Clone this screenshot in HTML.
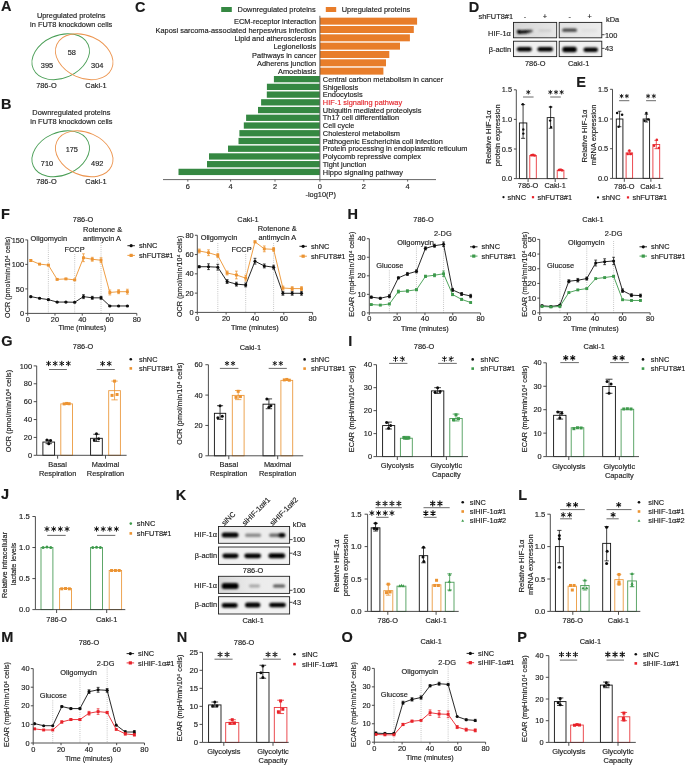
<!DOCTYPE html>
<html><head><meta charset="utf-8"><style>
html,body{margin:0;padding:0;background:#fff;}
svg{display:block;font-family:"Liberation Sans",sans-serif;will-change:transform;}
text{stroke:#1a1a1a;stroke-width:0.15px;}
</style></head><body>
<svg width="685" height="765" viewBox="0 0 685 765" font-size="7.4" fill="#1a1a1a">
<defs>
<filter id="b0" x="-50%" y="-80%" width="200%" height="260%"><feGaussianBlur stdDeviation="0.85"/></filter>
<filter id="b1" x="-50%" y="-80%" width="200%" height="260%"><feGaussianBlur stdDeviation="0.9"/></filter>
<filter id="b2" x="-50%" y="-80%" width="200%" height="260%"><feGaussianBlur stdDeviation="1.4"/></filter>
<linearGradient id="gbg1" x1="0" x2="1" y1="0" y2="0"><stop offset="0" stop-color="#d6d6d6"/><stop offset="1" stop-color="#e6e6e6"/></linearGradient>
<linearGradient id="hifg" x1="0" x2="1" y1="0" y2="0"><stop offset="0" stop-color="#000"/><stop offset="0.55" stop-color="#111"/><stop offset="1" stop-color="#555"/></linearGradient>
<linearGradient id="gbg3" x1="0" x2="1" y1="0" y2="0"><stop offset="0" stop-color="#d9d9d9"/><stop offset="0.5" stop-color="#ebebeb"/><stop offset="1" stop-color="#eeeeee"/></linearGradient>
<linearGradient id="gbg2" x1="0" x2="1" y1="0" y2="0"><stop offset="0" stop-color="#e2e2e2"/><stop offset="1" stop-color="#ececec"/></linearGradient>
<filter id="gblur" x="0" y="0" width="100%" height="100%" filterUnits="userSpaceOnUse"><feGaussianBlur stdDeviation="0.3"/></filter></defs>
<rect width="685" height="765" fill="#fff"/>
<g filter="url(#gblur)">
<text x="1" y="11.2" font-weight="bold" font-size="14.5">A</text>
<text x="71.2" y="18.23" text-anchor="middle">Upregulated proteins</text>
<text x="71.2" y="27.03" text-anchor="middle">in FUT8 knockdown cells</text>
<ellipse cx="60.7" cy="56.7" rx="30.0" ry="21.3" transform="rotate(-24 60.7 56.7)" fill="none" stroke="#4a9e56" stroke-width="0.9"/>
<ellipse cx="84.2" cy="56.7" rx="30.0" ry="21.3" transform="rotate(24 84.2 56.7)" fill="none" stroke="#ec9550" stroke-width="0.9"/>
<text x="71.8" y="55.33" text-anchor="middle">58</text>
<text x="47" y="68.43" text-anchor="middle">395</text>
<text x="97.2" y="68.43" text-anchor="middle">304</text>
<text x="46.4" y="88.23" text-anchor="middle">786-O</text>
<text x="96" y="88.23" text-anchor="middle">Caki-1</text>
<ellipse cx="60.7" cy="153.8" rx="30.0" ry="21.3" transform="rotate(-24 60.7 153.8)" fill="none" stroke="#4a9e56" stroke-width="0.9"/>
<ellipse cx="84.2" cy="153.8" rx="30.0" ry="21.3" transform="rotate(24 84.2 153.8)" fill="none" stroke="#ec9550" stroke-width="0.9"/>
<text x="71.8" y="152.43" text-anchor="middle">175</text>
<text x="47" y="165.53" text-anchor="middle">710</text>
<text x="97.2" y="165.53" text-anchor="middle">492</text>
<text x="46.4" y="184.03" text-anchor="middle">786-O</text>
<text x="96" y="184.03" text-anchor="middle">Caki-1</text>
<text x="1" y="109.4" font-weight="bold" font-size="14.5">B</text>
<text x="71.4" y="115.13" text-anchor="middle">Downregulated proteins</text>
<text x="71.4" y="124.03" text-anchor="middle">in FUT8 knockdown cells</text>
<text x="135" y="11.6" font-weight="bold" font-size="14.5">C</text>
<rect x="221.2" y="7" width="10.6" height="5" fill="#368843"/>
<text x="237.6" y="12.23">Downregulated proteins</text>
<rect x="325.8" y="7" width="10.4" height="5" fill="#e87d2c"/>
<text x="341.7" y="12.23">Upregulated proteins</text>
<rect x="319.9" y="17.66" width="97.2" height="7" fill="#e87d2c"/>
<text x="316.2" y="24.19" text-anchor="end">ECM-receptor interaction</text>
<rect x="319.9" y="25.99" width="93.9" height="7" fill="#e87d2c"/>
<text x="316.2" y="32.52" text-anchor="end">Kaposi sarcoma-associated herpesvirus infection</text>
<rect x="319.9" y="34.32" width="90" height="7" fill="#e87d2c"/>
<text x="316.2" y="40.85" text-anchor="end">Lipid and atherosclerosis</text>
<rect x="319.9" y="42.65" width="80.1" height="7" fill="#e87d2c"/>
<text x="316.2" y="49.18" text-anchor="end">Legionellosis</text>
<rect x="319.9" y="50.98" width="69.4" height="7" fill="#e87d2c"/>
<text x="316.2" y="57.51" text-anchor="end">Pathways in cancer</text>
<rect x="319.9" y="59.31" width="66.1" height="7" fill="#e87d2c"/>
<text x="316.2" y="65.84" text-anchor="end">Adherens junction</text>
<rect x="319.9" y="67.64" width="63.5" height="7" fill="#e87d2c"/>
<text x="316.2" y="74.17" text-anchor="end">Amoebiasis</text>
<rect x="273.9" y="76" width="46" height="6.3" fill="#368843"/>
<text x="322.8" y="81.83">Central carbon metabolism in cancer</text>
<rect x="266.9" y="83.73" width="53" height="6.3" fill="#368843"/>
<text x="322.8" y="89.56">Shigellosis</text>
<rect x="266.8" y="91.46" width="53.1" height="6.3" fill="#368843"/>
<text x="322.8" y="97.29">Endocytosis</text>
<rect x="261.1" y="99.19" width="58.8" height="6.3" fill="#368843"/>
<text x="322.8" y="105.02" fill="#e3262b" style="stroke:#e3262b">HIF-1 signaling pathway</text>
<rect x="258" y="106.92" width="61.9" height="6.3" fill="#368843"/>
<text x="322.8" y="112.75">Ubiquitin mediated proteolysis</text>
<rect x="246.1" y="114.65" width="73.8" height="6.3" fill="#368843"/>
<text x="322.8" y="120.48">Th17 cell differentiation</text>
<rect x="243.8" y="122.38" width="76.1" height="6.3" fill="#368843"/>
<text x="322.8" y="128.21">Cell cycle</text>
<rect x="239.4" y="130.11" width="80.5" height="6.3" fill="#368843"/>
<text x="322.8" y="135.94">Cholesterol metabolism</text>
<rect x="238.5" y="137.84" width="81.4" height="6.3" fill="#368843"/>
<text x="322.8" y="143.67">Pathogenic Escherichia coli infection</text>
<rect x="228" y="145.57" width="91.9" height="6.3" fill="#368843"/>
<text x="322.8" y="151.4">Protein processing in endoplasmic reticulum</text>
<rect x="209" y="153.3" width="110.9" height="6.3" fill="#368843"/>
<text x="322.8" y="159.13">Polycomb repressive complex</text>
<rect x="207" y="161.03" width="112.9" height="6.3" fill="#368843"/>
<text x="322.8" y="166.86">Tight junction</text>
<rect x="178.5" y="168.76" width="141.4" height="6.3" fill="#368843"/>
<text x="322.8" y="174.59">Hippo signaling pathway</text>
<line x1="319.9" y1="15.8" x2="319.9" y2="179.6" stroke="#555" stroke-width="0.9"/>
<line x1="163" y1="179.6" x2="436" y2="179.6" stroke="#555" stroke-width="0.9"/>
<line x1="187.8" y1="179.6" x2="187.8" y2="181.6" stroke="#555" stroke-width="0.9"/>
<text x="187.8" y="189.23" text-anchor="middle">6</text>
<line x1="230.6" y1="179.6" x2="230.6" y2="181.6" stroke="#555" stroke-width="0.9"/>
<text x="230.6" y="189.23" text-anchor="middle">4</text>
<line x1="275" y1="179.6" x2="275" y2="181.6" stroke="#555" stroke-width="0.9"/>
<text x="275" y="189.23" text-anchor="middle">2</text>
<line x1="319.9" y1="179.6" x2="319.9" y2="181.6" stroke="#555" stroke-width="0.9"/>
<text x="319.9" y="189.23" text-anchor="middle">0</text>
<line x1="363.8" y1="179.6" x2="363.8" y2="181.6" stroke="#555" stroke-width="0.9"/>
<text x="363.8" y="189.23" text-anchor="middle">2</text>
<line x1="407.6" y1="179.6" x2="407.6" y2="181.6" stroke="#555" stroke-width="0.9"/>
<text x="407.6" y="189.23" text-anchor="middle">4</text>
<text x="320.7" y="196.63" text-anchor="middle">-log10(P)</text>
<text x="468.8" y="11.6" font-weight="bold" font-size="14.5">D</text>
<text x="513" y="18.83" text-anchor="end">shFUT8#1</text>
<text x="525" y="18.83" text-anchor="middle">-</text>
<text x="545" y="18.83" text-anchor="middle">+</text>
<text x="569.7" y="18.83" text-anchor="middle">-</text>
<text x="589.6" y="18.83" text-anchor="middle">+</text>
<text x="606" y="21.63">kDa</text>
<text x="510.8" y="35.63" text-anchor="end">HIF-1α</text>
<text x="511" y="52.23" text-anchor="end">β-actin</text>
<line x1="601.5" y1="34.7" x2="604.5" y2="34.7" stroke="#222" stroke-width="0.8"/>
<text x="605" y="37.53">100</text>
<line x1="601.5" y1="48.4" x2="604.5" y2="48.4" stroke="#222" stroke-width="0.8"/>
<text x="605" y="51.03">43</text>
<text x="535.2" y="65.83" text-anchor="middle">786-O</text>
<text x="578.6" y="65.83" text-anchor="middle">Caki-1</text>
<rect x="513.5" y="22.4" width="43.2" height="15.4" fill="url(#gbg1)"/>
<rect x="559.2" y="22.4" width="42.6" height="15.4" fill="url(#gbg2)"/>
<rect x="513.5" y="41.2" width="43.2" height="15.4" fill="#f0f0f0"/>
<rect x="559.2" y="41.2" width="42.6" height="15.4" fill="#f0f0f0"/>
<path d="M517.2 30.0 Q516.2 32.2 518.0 33.9 L527 33.6 Q531 32.6 533.2 31.2 Q532.8 29.6 530.5 29.8 L521 30.2 Q518.5 29.6 517.2 30.0Z" fill="url(#hifg)" filter="url(#b1)"/>
<rect x="538.5" y="29.4" width="13" height="2.4" rx="1.2" fill="#000" fill-opacity="0.1" filter="url(#b1)"/>
<rect x="562.2" y="28.6" width="14.8" height="3.2" rx="1.6" fill="#000" fill-opacity="0.72" filter="url(#b0)"/>
<rect x="582" y="29.6" width="15" height="2" rx="1" fill="#000" fill-opacity="0.06" filter="url(#b1)"/>
<rect x="516.8" y="47" width="15" height="4.6" rx="2.3" fill="#000" fill-opacity="1" filter="url(#b0)"/>
<rect x="537.4" y="46.9" width="15.6" height="4.6" rx="2.3" fill="#000" fill-opacity="1" filter="url(#b0)"/>
<rect x="562.3" y="46.7" width="14.5" height="5.6" rx="2.5" fill="#000" fill-opacity="1" filter="url(#b0)"/>
<rect x="583.4" y="47.4" width="14.6" height="4.6" rx="2.3" fill="#000" fill-opacity="1" filter="url(#b0)"/>
<rect x="513.5" y="22.4" width="43.2" height="15.4" fill="none" stroke="#222" stroke-width="0.9"/>
<rect x="559.2" y="22.4" width="42.6" height="15.4" fill="none" stroke="#222" stroke-width="0.9"/>
<rect x="513.5" y="41.2" width="43.2" height="15.4" fill="none" stroke="#222" stroke-width="0.9"/>
<rect x="559.2" y="41.2" width="42.6" height="15.4" fill="none" stroke="#222" stroke-width="0.9"/>
<rect x="519.4" y="122.95" width="7.4" height="55.65" fill="#fff" stroke="#111" stroke-width="0.9"/>
<line x1="523.1" y1="138.34" x2="523.1" y2="104.6" stroke="#111" stroke-width="0.8"/>
<line x1="521.1" y1="104.6" x2="525.1" y2="104.6" stroke="#111" stroke-width="0.8"/>
<line x1="521.1" y1="138.34" x2="525.1" y2="138.34" stroke="#111" stroke-width="0.8"/>
<circle cx="522.8" cy="104.19" r="1.2" fill="#111"/>
<circle cx="523.3" cy="129.46" r="1.2" fill="#111"/>
<circle cx="523.3" cy="133.61" r="1.2" fill="#111"/>
<rect x="529.8" y="155.51" width="6.5" height="23.09" fill="#fff" stroke="#e9383d" stroke-width="0.9"/>
<rect x="530.35" y="154.02" width="2.4" height="2.4" fill="#e8232a"/>
<rect x="531.85" y="153.72" width="2.4" height="2.4" fill="#e8232a"/>
<rect x="533.35" y="154.31" width="2.4" height="2.4" fill="#e8232a"/>
<rect x="547.2" y="117.62" width="6.8" height="60.98" fill="#fff" stroke="#111" stroke-width="0.9"/>
<line x1="550.6" y1="128.28" x2="550.6" y2="106.97" stroke="#111" stroke-width="0.8"/>
<line x1="548.76" y1="106.97" x2="552.44" y2="106.97" stroke="#111" stroke-width="0.8"/>
<line x1="548.76" y1="128.28" x2="552.44" y2="128.28" stroke="#111" stroke-width="0.8"/>
<circle cx="550.6" cy="106.97" r="1.2" fill="#111"/>
<circle cx="550.1" cy="120.58" r="1.2" fill="#111"/>
<circle cx="551.1" cy="127.1" r="1.2" fill="#111"/>
<rect x="557.2" y="170.31" width="6.7" height="8.29" fill="#fff" stroke="#e9383d" stroke-width="0.9"/>
<rect x="557.85" y="168.82" width="2.4" height="2.4" fill="#e8232a"/>
<rect x="559.35" y="168.52" width="2.4" height="2.4" fill="#e8232a"/>
<rect x="560.85" y="169.11" width="2.4" height="2.4" fill="#e8232a"/>
<line x1="516.3" y1="178.6" x2="516.3" y2="89.8" stroke="#3a3a3a" stroke-width="0.9"/>
<line x1="513.9" y1="178.6" x2="516.3" y2="178.6" stroke="#3a3a3a" stroke-width="0.9"/>
<text x="512" y="181.23" text-anchor="end">0.0</text>
<line x1="513.9" y1="149" x2="516.3" y2="149" stroke="#3a3a3a" stroke-width="0.9"/>
<text x="512" y="151.63" text-anchor="end">0.5</text>
<line x1="513.9" y1="119.4" x2="516.3" y2="119.4" stroke="#3a3a3a" stroke-width="0.9"/>
<text x="512" y="122.03" text-anchor="end">1.0</text>
<line x1="513.9" y1="89.8" x2="516.3" y2="89.8" stroke="#3a3a3a" stroke-width="0.9"/>
<text x="512" y="92.43" text-anchor="end">1.5</text>
<line x1="516.3" y1="178.6" x2="567.4" y2="178.6" stroke="#3a3a3a" stroke-width="0.9"/>
<line x1="528.1" y1="178.6" x2="528.1" y2="182" stroke="#3a3a3a" stroke-width="0.9"/>
<text x="528.1" y="188.23" text-anchor="middle">786-O</text>
<line x1="555.2" y1="178.6" x2="555.2" y2="182" stroke="#3a3a3a" stroke-width="0.9"/>
<text x="555.2" y="188.23" text-anchor="middle">Caki-1</text>
<line x1="523" y1="97" x2="533.6" y2="97" stroke="#5a5a5a" stroke-width="0.9"/>
<path d="M528.3 89.94V94.46M526.34 91.07L530.26 93.33M526.34 93.33L530.26 91.07" stroke="#111" stroke-width="0.85" fill="none"/>
<line x1="550.2" y1="97" x2="560.8" y2="97" stroke="#5a5a5a" stroke-width="0.9"/>
<path d="M550.35 89.94V94.46M548.39 91.07L552.31 93.33M548.39 93.33L552.31 91.07M556 89.94V94.46M554.04 91.07L557.96 93.33M554.04 93.33L557.96 91.07M561.65 89.94V94.46M559.69 91.07L563.61 93.33M559.69 93.33L563.61 91.07" stroke="#111" stroke-width="0.85" fill="none"/>
<text x="487.8" y="139.73" text-anchor="middle" font-size="7.7" transform="rotate(-90 487.8 137)">Relative HIF-1α</text>
<text x="497.3" y="138" text-anchor="middle" font-size="7.6" transform="rotate(-90 497.3 135.3)">protein expression</text>
<circle cx="503.5" cy="197.2" r="1.1" fill="#111"/>
<text x="507.5" y="199.83">shNC</text>
<rect x="531.9" y="196.1" width="2.2" height="2.2" fill="#e8232a"/>
<text x="537.5" y="199.83">shFUT8#1</text>
<text x="576.2" y="86.6" font-weight="bold" font-size="14.5">E</text>
<rect x="616.3" y="119" width="6.6" height="59.4" fill="#fff" stroke="#111" stroke-width="0.9"/>
<line x1="619.6" y1="126.72" x2="619.6" y2="111.28" stroke="#111" stroke-width="0.8"/>
<line x1="617.82" y1="111.28" x2="621.38" y2="111.28" stroke="#111" stroke-width="0.8"/>
<line x1="617.82" y1="126.72" x2="621.38" y2="126.72" stroke="#111" stroke-width="0.8"/>
<circle cx="617.1" cy="113.06" r="1.25" fill="#111"/>
<circle cx="622.1" cy="114.84" r="1.25" fill="#111"/>
<circle cx="618.6" cy="126.72" r="1.25" fill="#111"/>
<rect x="626.1" y="152.86" width="6.5" height="25.54" fill="#fff" stroke="#e9383d" stroke-width="0.9"/>
<line x1="629.35" y1="154.64" x2="629.35" y2="151.08" stroke="#e8232a" stroke-width="0.8"/>
<line x1="627.6" y1="151.08" x2="631.11" y2="151.08" stroke="#e8232a" stroke-width="0.8"/>
<line x1="627.6" y1="154.64" x2="631.11" y2="154.64" stroke="#e8232a" stroke-width="0.8"/>
<circle cx="629.35" cy="150.48" r="1.25" fill="#e8232a"/>
<circle cx="627.55" cy="154.05" r="1.25" fill="#e8232a"/>
<circle cx="630.85" cy="154.05" r="1.25" fill="#e8232a"/>
<rect x="643.1" y="119" width="6.5" height="59.4" fill="#fff" stroke="#111" stroke-width="0.9"/>
<line x1="646.35" y1="121.97" x2="646.35" y2="114.25" stroke="#111" stroke-width="0.8"/>
<line x1="644.6" y1="114.25" x2="648.11" y2="114.25" stroke="#111" stroke-width="0.8"/>
<line x1="644.6" y1="121.97" x2="648.11" y2="121.97" stroke="#111" stroke-width="0.8"/>
<circle cx="646.35" cy="113.06" r="1.25" fill="#111"/>
<circle cx="644.55" cy="120.78" r="1.25" fill="#111"/>
<circle cx="648.15" cy="119.59" r="1.25" fill="#111"/>
<rect x="652.9" y="144.54" width="6.8" height="33.86" fill="#fff" stroke="#e9383d" stroke-width="0.9"/>
<line x1="656.3" y1="148.7" x2="656.3" y2="140.38" stroke="#e8232a" stroke-width="0.8"/>
<line x1="654.46" y1="140.38" x2="658.14" y2="140.38" stroke="#e8232a" stroke-width="0.8"/>
<line x1="654.46" y1="148.7" x2="658.14" y2="148.7" stroke="#e8232a" stroke-width="0.8"/>
<circle cx="656.8" cy="139.79" r="1.25" fill="#e8232a"/>
<circle cx="654.1" cy="145.73" r="1.25" fill="#e8232a"/>
<circle cx="658.8" cy="148.11" r="1.25" fill="#e8232a"/>
<line x1="612.5" y1="178.4" x2="612.5" y2="89.3" stroke="#3a3a3a" stroke-width="0.9"/>
<line x1="610.1" y1="178.4" x2="612.5" y2="178.4" stroke="#3a3a3a" stroke-width="0.9"/>
<text x="608.2" y="181.03" text-anchor="end">0.0</text>
<line x1="610.1" y1="148.7" x2="612.5" y2="148.7" stroke="#3a3a3a" stroke-width="0.9"/>
<text x="608.2" y="151.33" text-anchor="end">0.5</text>
<line x1="610.1" y1="119" x2="612.5" y2="119" stroke="#3a3a3a" stroke-width="0.9"/>
<text x="608.2" y="121.63" text-anchor="end">1.0</text>
<line x1="610.1" y1="89.3" x2="612.5" y2="89.3" stroke="#3a3a3a" stroke-width="0.9"/>
<text x="608.2" y="91.93" text-anchor="end">1.5</text>
<line x1="612.5" y1="178.4" x2="663.3" y2="178.4" stroke="#3a3a3a" stroke-width="0.9"/>
<line x1="624.3" y1="178.4" x2="624.3" y2="181.8" stroke="#3a3a3a" stroke-width="0.9"/>
<text x="624.3" y="188.93" text-anchor="middle">786-O</text>
<line x1="650.9" y1="178.4" x2="650.9" y2="181.8" stroke="#3a3a3a" stroke-width="0.9"/>
<text x="650.9" y="188.93" text-anchor="middle">Caki-1</text>
<line x1="619.1" y1="100.7" x2="629.3" y2="100.7" stroke="#5a5a5a" stroke-width="0.9"/>
<path d="M621.55 93.98V98.22M619.71 95.04L623.39 97.16M619.71 97.16L623.39 95.04M626.85 93.98V98.22M625.01 95.04L628.69 97.16M625.01 97.16L628.69 95.04" stroke="#111" stroke-width="0.85" fill="none"/>
<line x1="646.1" y1="100.7" x2="656" y2="100.7" stroke="#5a5a5a" stroke-width="0.9"/>
<path d="M648.1 93.82V98.38M646.13 94.96L650.07 97.24M646.13 97.24L650.07 94.96M653.8 93.82V98.38M651.83 94.96L655.77 97.24M651.83 97.24L655.77 94.96" stroke="#111" stroke-width="0.85" fill="none"/>
<text x="584.5" y="138.7" text-anchor="middle" font-size="7.6" transform="rotate(-90 584.5 136)">Relative HIF-1α</text>
<text x="593.7" y="137.6" text-anchor="middle" font-size="7.6" transform="rotate(-90 593.7 134.9)">mRNA expression</text>
<circle cx="598" cy="197.4" r="1.1" fill="#111"/>
<text x="602" y="200.03">shNC</text>
<rect x="626.9" y="196.3" width="2.2" height="2.2" fill="#e8232a"/>
<text x="632.5" y="200.03">shFUT8#1</text>
<text x="0.9" y="219.2" font-weight="bold" font-size="14.5">F</text>
<line x1="48.36" y1="243.5" x2="48.36" y2="313.4" stroke="#8a8a8a" stroke-width="0.6" stroke-dasharray="0.8 1.3"/>
<line x1="74.7" y1="254" x2="74.7" y2="313.4" stroke="#8a8a8a" stroke-width="0.6" stroke-dasharray="0.8 1.3"/>
<line x1="101.04" y1="243" x2="101.04" y2="313.4" stroke="#8a8a8a" stroke-width="0.6" stroke-dasharray="0.8 1.3"/>
<polyline points="30.8,296.64 39.58,298.31 48.36,299.63 57.14,302.08 65.92,302.08 74.7,302.28 83.48,296.64 92.26,297.82 101.04,297.82 109.82,305.95 118.6,305.95 127.38,305.95" fill="none" stroke="#111" stroke-width="0.9" stroke-linejoin="round"/>
<line x1="30.8" y1="296.15" x2="30.8" y2="297.13" stroke="#111" stroke-width="0.75"/>
<line x1="29.4" y1="296.15" x2="32.2" y2="296.15" stroke="#111" stroke-width="0.75"/>
<line x1="29.4" y1="297.13" x2="32.2" y2="297.13" stroke="#111" stroke-width="0.75"/>
<circle cx="30.8" cy="296.64" r="1.55" fill="#111"/>
<line x1="39.58" y1="297.82" x2="39.58" y2="298.8" stroke="#111" stroke-width="0.75"/>
<line x1="38.18" y1="297.82" x2="40.98" y2="297.82" stroke="#111" stroke-width="0.75"/>
<line x1="38.18" y1="298.8" x2="40.98" y2="298.8" stroke="#111" stroke-width="0.75"/>
<circle cx="39.58" cy="298.31" r="1.55" fill="#111"/>
<line x1="48.36" y1="299.14" x2="48.36" y2="300.12" stroke="#111" stroke-width="0.75"/>
<line x1="46.96" y1="299.14" x2="49.76" y2="299.14" stroke="#111" stroke-width="0.75"/>
<line x1="46.96" y1="300.12" x2="49.76" y2="300.12" stroke="#111" stroke-width="0.75"/>
<circle cx="48.36" cy="299.63" r="1.55" fill="#111"/>
<line x1="57.14" y1="301.59" x2="57.14" y2="302.57" stroke="#111" stroke-width="0.75"/>
<line x1="55.74" y1="301.59" x2="58.54" y2="301.59" stroke="#111" stroke-width="0.75"/>
<line x1="55.74" y1="302.57" x2="58.54" y2="302.57" stroke="#111" stroke-width="0.75"/>
<circle cx="57.14" cy="302.08" r="1.55" fill="#111"/>
<line x1="65.92" y1="301.59" x2="65.92" y2="302.57" stroke="#111" stroke-width="0.75"/>
<line x1="64.52" y1="301.59" x2="67.32" y2="301.59" stroke="#111" stroke-width="0.75"/>
<line x1="64.52" y1="302.57" x2="67.32" y2="302.57" stroke="#111" stroke-width="0.75"/>
<circle cx="65.92" cy="302.08" r="1.55" fill="#111"/>
<line x1="74.7" y1="301.79" x2="74.7" y2="302.77" stroke="#111" stroke-width="0.75"/>
<line x1="73.3" y1="301.79" x2="76.1" y2="301.79" stroke="#111" stroke-width="0.75"/>
<line x1="73.3" y1="302.77" x2="76.1" y2="302.77" stroke="#111" stroke-width="0.75"/>
<circle cx="74.7" cy="302.28" r="1.55" fill="#111"/>
<line x1="83.48" y1="294.68" x2="83.48" y2="298.6" stroke="#111" stroke-width="0.75"/>
<line x1="82.08" y1="294.68" x2="84.88" y2="294.68" stroke="#111" stroke-width="0.75"/>
<line x1="82.08" y1="298.6" x2="84.88" y2="298.6" stroke="#111" stroke-width="0.75"/>
<circle cx="83.48" cy="296.64" r="1.55" fill="#111"/>
<line x1="92.26" y1="296.35" x2="92.26" y2="299.29" stroke="#111" stroke-width="0.75"/>
<line x1="90.86" y1="296.35" x2="93.66" y2="296.35" stroke="#111" stroke-width="0.75"/>
<line x1="90.86" y1="299.29" x2="93.66" y2="299.29" stroke="#111" stroke-width="0.75"/>
<circle cx="92.26" cy="297.82" r="1.55" fill="#111"/>
<line x1="101.04" y1="296.35" x2="101.04" y2="299.29" stroke="#111" stroke-width="0.75"/>
<line x1="99.64" y1="296.35" x2="102.44" y2="296.35" stroke="#111" stroke-width="0.75"/>
<line x1="99.64" y1="299.29" x2="102.44" y2="299.29" stroke="#111" stroke-width="0.75"/>
<circle cx="101.04" cy="297.82" r="1.55" fill="#111"/>
<line x1="109.82" y1="305.46" x2="109.82" y2="306.44" stroke="#111" stroke-width="0.75"/>
<line x1="108.42" y1="305.46" x2="111.22" y2="305.46" stroke="#111" stroke-width="0.75"/>
<line x1="108.42" y1="306.44" x2="111.22" y2="306.44" stroke="#111" stroke-width="0.75"/>
<circle cx="109.82" cy="305.95" r="1.55" fill="#111"/>
<line x1="118.6" y1="305.46" x2="118.6" y2="306.44" stroke="#111" stroke-width="0.75"/>
<line x1="117.2" y1="305.46" x2="120" y2="305.46" stroke="#111" stroke-width="0.75"/>
<line x1="117.2" y1="306.44" x2="120" y2="306.44" stroke="#111" stroke-width="0.75"/>
<circle cx="118.6" cy="305.95" r="1.55" fill="#111"/>
<line x1="127.38" y1="305.46" x2="127.38" y2="306.44" stroke="#111" stroke-width="0.75"/>
<line x1="125.98" y1="305.46" x2="128.78" y2="305.46" stroke="#111" stroke-width="0.75"/>
<line x1="125.98" y1="306.44" x2="128.78" y2="306.44" stroke="#111" stroke-width="0.75"/>
<circle cx="127.38" cy="305.95" r="1.55" fill="#111"/>
<polyline points="30.8,260.48 39.58,264.11 48.36,265.09 57.14,279.39 65.92,278.9 74.7,279.88 83.48,257.74 92.26,259.25 101.04,260.23 109.82,292.48 118.6,291.69 127.38,291.69" fill="none" stroke="#ec9330" stroke-width="0.9" stroke-linejoin="round"/>
<line x1="30.8" y1="259.5" x2="30.8" y2="261.46" stroke="#ec9330" stroke-width="0.75"/>
<line x1="29.4" y1="259.5" x2="32.2" y2="259.5" stroke="#ec9330" stroke-width="0.75"/>
<line x1="29.4" y1="261.46" x2="32.2" y2="261.46" stroke="#ec9330" stroke-width="0.75"/>
<rect x="29.35" y="259.03" width="2.9" height="2.9" fill="#ec9330"/>
<line x1="39.58" y1="263.62" x2="39.58" y2="264.6" stroke="#ec9330" stroke-width="0.75"/>
<line x1="38.18" y1="263.62" x2="40.98" y2="263.62" stroke="#ec9330" stroke-width="0.75"/>
<line x1="38.18" y1="264.6" x2="40.98" y2="264.6" stroke="#ec9330" stroke-width="0.75"/>
<rect x="38.13" y="262.66" width="2.9" height="2.9" fill="#ec9330"/>
<line x1="48.36" y1="264.6" x2="48.36" y2="265.58" stroke="#ec9330" stroke-width="0.75"/>
<line x1="46.96" y1="264.6" x2="49.76" y2="264.6" stroke="#ec9330" stroke-width="0.75"/>
<line x1="46.96" y1="265.58" x2="49.76" y2="265.58" stroke="#ec9330" stroke-width="0.75"/>
<rect x="46.91" y="263.64" width="2.9" height="2.9" fill="#ec9330"/>
<line x1="57.14" y1="278.9" x2="57.14" y2="279.88" stroke="#ec9330" stroke-width="0.75"/>
<line x1="55.74" y1="278.9" x2="58.54" y2="278.9" stroke="#ec9330" stroke-width="0.75"/>
<line x1="55.74" y1="279.88" x2="58.54" y2="279.88" stroke="#ec9330" stroke-width="0.75"/>
<rect x="55.69" y="277.94" width="2.9" height="2.9" fill="#ec9330"/>
<line x1="65.92" y1="278.41" x2="65.92" y2="279.39" stroke="#ec9330" stroke-width="0.75"/>
<line x1="64.52" y1="278.41" x2="67.32" y2="278.41" stroke="#ec9330" stroke-width="0.75"/>
<line x1="64.52" y1="279.39" x2="67.32" y2="279.39" stroke="#ec9330" stroke-width="0.75"/>
<rect x="64.47" y="277.45" width="2.9" height="2.9" fill="#ec9330"/>
<line x1="74.7" y1="279.39" x2="74.7" y2="280.37" stroke="#ec9330" stroke-width="0.75"/>
<line x1="73.3" y1="279.39" x2="76.1" y2="279.39" stroke="#ec9330" stroke-width="0.75"/>
<line x1="73.3" y1="280.37" x2="76.1" y2="280.37" stroke="#ec9330" stroke-width="0.75"/>
<rect x="73.25" y="278.43" width="2.9" height="2.9" fill="#ec9330"/>
<line x1="83.48" y1="253.82" x2="83.48" y2="261.66" stroke="#ec9330" stroke-width="0.75"/>
<line x1="82.08" y1="253.82" x2="84.88" y2="253.82" stroke="#ec9330" stroke-width="0.75"/>
<line x1="82.08" y1="261.66" x2="84.88" y2="261.66" stroke="#ec9330" stroke-width="0.75"/>
<rect x="82.03" y="256.29" width="2.9" height="2.9" fill="#ec9330"/>
<line x1="92.26" y1="257.3" x2="92.26" y2="261.21" stroke="#ec9330" stroke-width="0.75"/>
<line x1="90.86" y1="257.3" x2="93.66" y2="257.3" stroke="#ec9330" stroke-width="0.75"/>
<line x1="90.86" y1="261.21" x2="93.66" y2="261.21" stroke="#ec9330" stroke-width="0.75"/>
<rect x="90.81" y="257.81" width="2.9" height="2.9" fill="#ec9330"/>
<line x1="101.04" y1="257.78" x2="101.04" y2="262.68" stroke="#ec9330" stroke-width="0.75"/>
<line x1="99.64" y1="257.78" x2="102.44" y2="257.78" stroke="#ec9330" stroke-width="0.75"/>
<line x1="99.64" y1="262.68" x2="102.44" y2="262.68" stroke="#ec9330" stroke-width="0.75"/>
<rect x="99.59" y="258.78" width="2.9" height="2.9" fill="#ec9330"/>
<line x1="109.82" y1="290.03" x2="109.82" y2="294.93" stroke="#ec9330" stroke-width="0.75"/>
<line x1="108.42" y1="290.03" x2="111.22" y2="290.03" stroke="#ec9330" stroke-width="0.75"/>
<line x1="108.42" y1="294.93" x2="111.22" y2="294.93" stroke="#ec9330" stroke-width="0.75"/>
<rect x="108.37" y="291.03" width="2.9" height="2.9" fill="#ec9330"/>
<line x1="118.6" y1="289.73" x2="118.6" y2="293.65" stroke="#ec9330" stroke-width="0.75"/>
<line x1="117.2" y1="289.73" x2="120" y2="289.73" stroke="#ec9330" stroke-width="0.75"/>
<line x1="117.2" y1="293.65" x2="120" y2="293.65" stroke="#ec9330" stroke-width="0.75"/>
<rect x="117.15" y="290.24" width="2.9" height="2.9" fill="#ec9330"/>
<line x1="127.38" y1="289.24" x2="127.38" y2="294.14" stroke="#ec9330" stroke-width="0.75"/>
<line x1="125.98" y1="289.24" x2="128.78" y2="289.24" stroke="#ec9330" stroke-width="0.75"/>
<line x1="125.98" y1="294.14" x2="128.78" y2="294.14" stroke="#ec9330" stroke-width="0.75"/>
<rect x="125.93" y="290.24" width="2.9" height="2.9" fill="#ec9330"/>
<line x1="27.7" y1="313.4" x2="27.7" y2="239.9" stroke="#3a3a3a" stroke-width="0.9"/>
<line x1="25.3" y1="313.4" x2="27.7" y2="313.4" stroke="#3a3a3a" stroke-width="0.9"/>
<text x="24.1" y="316.03" text-anchor="end">0</text>
<line x1="25.3" y1="288.9" x2="27.7" y2="288.9" stroke="#3a3a3a" stroke-width="0.9"/>
<text x="24.1" y="291.53" text-anchor="end">50</text>
<line x1="25.3" y1="264.4" x2="27.7" y2="264.4" stroke="#3a3a3a" stroke-width="0.9"/>
<text x="24.1" y="267.03" text-anchor="end">100</text>
<line x1="25.3" y1="239.9" x2="27.7" y2="239.9" stroke="#3a3a3a" stroke-width="0.9"/>
<text x="24.1" y="242.53" text-anchor="end">150</text>
<line x1="27.7" y1="313.4" x2="136.82" y2="313.4" stroke="#3a3a3a" stroke-width="0.9"/>
<line x1="27.7" y1="313.4" x2="27.7" y2="315.6" stroke="#3a3a3a" stroke-width="0.9"/>
<text x="27.7" y="321.93" text-anchor="middle">0</text>
<line x1="54.98" y1="313.4" x2="54.98" y2="315.6" stroke="#3a3a3a" stroke-width="0.9"/>
<text x="54.98" y="321.93" text-anchor="middle">20</text>
<line x1="82.26" y1="313.4" x2="82.26" y2="315.6" stroke="#3a3a3a" stroke-width="0.9"/>
<text x="82.26" y="321.93" text-anchor="middle">40</text>
<line x1="109.54" y1="313.4" x2="109.54" y2="315.6" stroke="#3a3a3a" stroke-width="0.9"/>
<text x="109.54" y="321.93" text-anchor="middle">60</text>
<line x1="136.82" y1="313.4" x2="136.82" y2="315.6" stroke="#3a3a3a" stroke-width="0.9"/>
<text x="136.82" y="321.93" text-anchor="middle">80</text>
<text x="82.26" y="330.36" text-anchor="middle" font-size="7.2">Time (minutes)</text>
<text x="30.5" y="240.63">Oligomycin</text>
<text x="74.5" y="252.23" text-anchor="middle">FCCP</text>
<text x="83.1" y="231.93">Rotenone &</text>
<text x="83.1" y="240.63">antimycin A</text>
<line x1="127.4" y1="245.7" x2="134.9" y2="245.7" stroke="#111" stroke-width="0.9"/>
<circle cx="131.15" cy="245.7" r="1.6" fill="#111"/>
<text x="138.9" y="248.33">shNC</text>
<line x1="127.4" y1="255.4" x2="134.9" y2="255.4" stroke="#ec9330" stroke-width="0.9"/>
<rect x="129.55" y="253.8" width="3.2" height="3.2" fill="#ec9330"/>
<text x="138.9" y="258.03">shFUT8#1</text>
<text x="83.1" y="222.03" text-anchor="middle">786-O</text>
<text x="7.4" y="279.76" text-anchor="middle" font-size="7.2" transform="rotate(-90 7.4 277.2)">OCR (pmol/min/10⁴ cells)</text>
<line x1="217.8" y1="243" x2="217.8" y2="312.4" stroke="#8a8a8a" stroke-width="0.6" stroke-dasharray="0.8 1.3"/>
<line x1="245.7" y1="254" x2="245.7" y2="312.4" stroke="#8a8a8a" stroke-width="0.6" stroke-dasharray="0.8 1.3"/>
<line x1="273.6" y1="243" x2="273.6" y2="312.4" stroke="#8a8a8a" stroke-width="0.6" stroke-dasharray="0.8 1.3"/>
<polyline points="199.2,266.71 208.5,266.71 217.8,267.19 227.1,281.55 236.4,284.15 245.7,284.93 255,261.21 264.3,265.94 273.6,267.19 282.9,293.31 292.2,293.31 301.5,293.31" fill="none" stroke="#111" stroke-width="0.9" stroke-linejoin="round"/>
<line x1="199.2" y1="265.74" x2="199.2" y2="267.67" stroke="#111" stroke-width="0.75"/>
<line x1="197.8" y1="265.74" x2="200.6" y2="265.74" stroke="#111" stroke-width="0.75"/>
<line x1="197.8" y1="267.67" x2="200.6" y2="267.67" stroke="#111" stroke-width="0.75"/>
<circle cx="199.2" cy="266.71" r="1.55" fill="#111"/>
<line x1="208.5" y1="263.81" x2="208.5" y2="269.6" stroke="#111" stroke-width="0.75"/>
<line x1="207.1" y1="263.81" x2="209.9" y2="263.81" stroke="#111" stroke-width="0.75"/>
<line x1="207.1" y1="269.6" x2="209.9" y2="269.6" stroke="#111" stroke-width="0.75"/>
<circle cx="208.5" cy="266.71" r="1.55" fill="#111"/>
<line x1="217.8" y1="264.3" x2="217.8" y2="270.08" stroke="#111" stroke-width="0.75"/>
<line x1="216.4" y1="264.3" x2="219.2" y2="264.3" stroke="#111" stroke-width="0.75"/>
<line x1="216.4" y1="270.08" x2="219.2" y2="270.08" stroke="#111" stroke-width="0.75"/>
<circle cx="217.8" cy="267.19" r="1.55" fill="#111"/>
<line x1="227.1" y1="279.62" x2="227.1" y2="283.48" stroke="#111" stroke-width="0.75"/>
<line x1="225.7" y1="279.62" x2="228.5" y2="279.62" stroke="#111" stroke-width="0.75"/>
<line x1="225.7" y1="283.48" x2="228.5" y2="283.48" stroke="#111" stroke-width="0.75"/>
<circle cx="227.1" cy="281.55" r="1.55" fill="#111"/>
<line x1="236.4" y1="282.23" x2="236.4" y2="286.08" stroke="#111" stroke-width="0.75"/>
<line x1="235" y1="282.23" x2="237.8" y2="282.23" stroke="#111" stroke-width="0.75"/>
<line x1="235" y1="286.08" x2="237.8" y2="286.08" stroke="#111" stroke-width="0.75"/>
<circle cx="236.4" cy="284.15" r="1.55" fill="#111"/>
<line x1="245.7" y1="283" x2="245.7" y2="286.85" stroke="#111" stroke-width="0.75"/>
<line x1="244.3" y1="283" x2="247.1" y2="283" stroke="#111" stroke-width="0.75"/>
<line x1="244.3" y1="286.85" x2="247.1" y2="286.85" stroke="#111" stroke-width="0.75"/>
<circle cx="245.7" cy="284.93" r="1.55" fill="#111"/>
<line x1="255" y1="258.32" x2="255" y2="264.1" stroke="#111" stroke-width="0.75"/>
<line x1="253.6" y1="258.32" x2="256.4" y2="258.32" stroke="#111" stroke-width="0.75"/>
<line x1="253.6" y1="264.1" x2="256.4" y2="264.1" stroke="#111" stroke-width="0.75"/>
<circle cx="255" cy="261.21" r="1.55" fill="#111"/>
<line x1="264.3" y1="264.01" x2="264.3" y2="267.86" stroke="#111" stroke-width="0.75"/>
<line x1="262.9" y1="264.01" x2="265.7" y2="264.01" stroke="#111" stroke-width="0.75"/>
<line x1="262.9" y1="267.86" x2="265.7" y2="267.86" stroke="#111" stroke-width="0.75"/>
<circle cx="264.3" cy="265.94" r="1.55" fill="#111"/>
<line x1="273.6" y1="265.26" x2="273.6" y2="269.12" stroke="#111" stroke-width="0.75"/>
<line x1="272.2" y1="265.26" x2="275" y2="265.26" stroke="#111" stroke-width="0.75"/>
<line x1="272.2" y1="269.12" x2="275" y2="269.12" stroke="#111" stroke-width="0.75"/>
<circle cx="273.6" cy="267.19" r="1.55" fill="#111"/>
<line x1="282.9" y1="291.38" x2="282.9" y2="295.24" stroke="#111" stroke-width="0.75"/>
<line x1="281.5" y1="291.38" x2="284.3" y2="291.38" stroke="#111" stroke-width="0.75"/>
<line x1="281.5" y1="295.24" x2="284.3" y2="295.24" stroke="#111" stroke-width="0.75"/>
<circle cx="282.9" cy="293.31" r="1.55" fill="#111"/>
<line x1="292.2" y1="291.38" x2="292.2" y2="295.24" stroke="#111" stroke-width="0.75"/>
<line x1="290.8" y1="291.38" x2="293.6" y2="291.38" stroke="#111" stroke-width="0.75"/>
<line x1="290.8" y1="295.24" x2="293.6" y2="295.24" stroke="#111" stroke-width="0.75"/>
<circle cx="292.2" cy="293.31" r="1.55" fill="#111"/>
<line x1="301.5" y1="291.38" x2="301.5" y2="295.24" stroke="#111" stroke-width="0.75"/>
<line x1="300.1" y1="291.38" x2="302.9" y2="291.38" stroke="#111" stroke-width="0.75"/>
<line x1="300.1" y1="295.24" x2="302.9" y2="295.24" stroke="#111" stroke-width="0.75"/>
<circle cx="301.5" cy="293.31" r="1.55" fill="#111"/>
<polyline points="199.2,250.99 208.5,252.73 217.8,255.52 227.1,272.97 236.4,275 245.7,278.08 255,241.84 264.3,248.87 273.6,249.35 282.9,288.01 292.2,288.59 301.5,288.59" fill="none" stroke="#ec9330" stroke-width="0.9" stroke-linejoin="round"/>
<line x1="199.2" y1="249.07" x2="199.2" y2="252.92" stroke="#ec9330" stroke-width="0.75"/>
<line x1="197.8" y1="249.07" x2="200.6" y2="249.07" stroke="#ec9330" stroke-width="0.75"/>
<line x1="197.8" y1="252.92" x2="200.6" y2="252.92" stroke="#ec9330" stroke-width="0.75"/>
<rect x="197.75" y="249.54" width="2.9" height="2.9" fill="#ec9330"/>
<line x1="208.5" y1="249.84" x2="208.5" y2="255.62" stroke="#ec9330" stroke-width="0.75"/>
<line x1="207.1" y1="249.84" x2="209.9" y2="249.84" stroke="#ec9330" stroke-width="0.75"/>
<line x1="207.1" y1="255.62" x2="209.9" y2="255.62" stroke="#ec9330" stroke-width="0.75"/>
<rect x="207.05" y="251.28" width="2.9" height="2.9" fill="#ec9330"/>
<line x1="217.8" y1="253.6" x2="217.8" y2="257.45" stroke="#ec9330" stroke-width="0.75"/>
<line x1="216.4" y1="253.6" x2="219.2" y2="253.6" stroke="#ec9330" stroke-width="0.75"/>
<line x1="216.4" y1="257.45" x2="219.2" y2="257.45" stroke="#ec9330" stroke-width="0.75"/>
<rect x="216.35" y="254.07" width="2.9" height="2.9" fill="#ec9330"/>
<line x1="227.1" y1="271.04" x2="227.1" y2="274.9" stroke="#ec9330" stroke-width="0.75"/>
<line x1="225.7" y1="271.04" x2="228.5" y2="271.04" stroke="#ec9330" stroke-width="0.75"/>
<line x1="225.7" y1="274.9" x2="228.5" y2="274.9" stroke="#ec9330" stroke-width="0.75"/>
<rect x="225.65" y="271.52" width="2.9" height="2.9" fill="#ec9330"/>
<line x1="236.4" y1="271.14" x2="236.4" y2="278.85" stroke="#ec9330" stroke-width="0.75"/>
<line x1="235" y1="271.14" x2="237.8" y2="271.14" stroke="#ec9330" stroke-width="0.75"/>
<line x1="235" y1="278.85" x2="237.8" y2="278.85" stroke="#ec9330" stroke-width="0.75"/>
<rect x="234.95" y="273.55" width="2.9" height="2.9" fill="#ec9330"/>
<line x1="245.7" y1="275.19" x2="245.7" y2="280.97" stroke="#ec9330" stroke-width="0.75"/>
<line x1="244.3" y1="275.19" x2="247.1" y2="275.19" stroke="#ec9330" stroke-width="0.75"/>
<line x1="244.3" y1="280.97" x2="247.1" y2="280.97" stroke="#ec9330" stroke-width="0.75"/>
<rect x="244.25" y="276.63" width="2.9" height="2.9" fill="#ec9330"/>
<line x1="255" y1="240.87" x2="255" y2="242.8" stroke="#ec9330" stroke-width="0.75"/>
<line x1="253.6" y1="240.87" x2="256.4" y2="240.87" stroke="#ec9330" stroke-width="0.75"/>
<line x1="253.6" y1="242.8" x2="256.4" y2="242.8" stroke="#ec9330" stroke-width="0.75"/>
<rect x="253.55" y="240.39" width="2.9" height="2.9" fill="#ec9330"/>
<line x1="264.3" y1="245.98" x2="264.3" y2="251.76" stroke="#ec9330" stroke-width="0.75"/>
<line x1="262.9" y1="245.98" x2="265.7" y2="245.98" stroke="#ec9330" stroke-width="0.75"/>
<line x1="262.9" y1="251.76" x2="265.7" y2="251.76" stroke="#ec9330" stroke-width="0.75"/>
<rect x="262.85" y="247.42" width="2.9" height="2.9" fill="#ec9330"/>
<line x1="273.6" y1="247.43" x2="273.6" y2="251.28" stroke="#ec9330" stroke-width="0.75"/>
<line x1="272.2" y1="247.43" x2="275" y2="247.43" stroke="#ec9330" stroke-width="0.75"/>
<line x1="272.2" y1="251.28" x2="275" y2="251.28" stroke="#ec9330" stroke-width="0.75"/>
<rect x="272.15" y="247.9" width="2.9" height="2.9" fill="#ec9330"/>
<line x1="282.9" y1="286.08" x2="282.9" y2="289.94" stroke="#ec9330" stroke-width="0.75"/>
<line x1="281.5" y1="286.08" x2="284.3" y2="286.08" stroke="#ec9330" stroke-width="0.75"/>
<line x1="281.5" y1="289.94" x2="284.3" y2="289.94" stroke="#ec9330" stroke-width="0.75"/>
<rect x="281.45" y="286.56" width="2.9" height="2.9" fill="#ec9330"/>
<line x1="292.2" y1="286.66" x2="292.2" y2="290.52" stroke="#ec9330" stroke-width="0.75"/>
<line x1="290.8" y1="286.66" x2="293.6" y2="286.66" stroke="#ec9330" stroke-width="0.75"/>
<line x1="290.8" y1="290.52" x2="293.6" y2="290.52" stroke="#ec9330" stroke-width="0.75"/>
<rect x="290.75" y="287.14" width="2.9" height="2.9" fill="#ec9330"/>
<line x1="301.5" y1="286.66" x2="301.5" y2="290.52" stroke="#ec9330" stroke-width="0.75"/>
<line x1="300.1" y1="286.66" x2="302.9" y2="286.66" stroke="#ec9330" stroke-width="0.75"/>
<line x1="300.1" y1="290.52" x2="302.9" y2="290.52" stroke="#ec9330" stroke-width="0.75"/>
<rect x="300.05" y="287.14" width="2.9" height="2.9" fill="#ec9330"/>
<line x1="197.3" y1="312.4" x2="197.3" y2="235.28" stroke="#3a3a3a" stroke-width="0.9"/>
<line x1="194.9" y1="312.4" x2="197.3" y2="312.4" stroke="#3a3a3a" stroke-width="0.9"/>
<text x="193.7" y="315.03" text-anchor="end">0</text>
<line x1="194.9" y1="293.12" x2="197.3" y2="293.12" stroke="#3a3a3a" stroke-width="0.9"/>
<text x="193.7" y="295.75" text-anchor="end">20</text>
<line x1="194.9" y1="273.84" x2="197.3" y2="273.84" stroke="#3a3a3a" stroke-width="0.9"/>
<text x="193.7" y="276.47" text-anchor="end">40</text>
<line x1="194.9" y1="254.56" x2="197.3" y2="254.56" stroke="#3a3a3a" stroke-width="0.9"/>
<text x="193.7" y="257.19" text-anchor="end">60</text>
<line x1="194.9" y1="235.28" x2="197.3" y2="235.28" stroke="#3a3a3a" stroke-width="0.9"/>
<text x="193.7" y="237.91" text-anchor="end">80</text>
<line x1="197.3" y1="312.4" x2="312.58" y2="312.4" stroke="#3a3a3a" stroke-width="0.9"/>
<line x1="197.3" y1="312.4" x2="197.3" y2="314.6" stroke="#3a3a3a" stroke-width="0.9"/>
<text x="197.3" y="320.93" text-anchor="middle">0</text>
<line x1="226.12" y1="312.4" x2="226.12" y2="314.6" stroke="#3a3a3a" stroke-width="0.9"/>
<text x="226.12" y="320.93" text-anchor="middle">20</text>
<line x1="254.94" y1="312.4" x2="254.94" y2="314.6" stroke="#3a3a3a" stroke-width="0.9"/>
<text x="254.94" y="320.93" text-anchor="middle">40</text>
<line x1="283.76" y1="312.4" x2="283.76" y2="314.6" stroke="#3a3a3a" stroke-width="0.9"/>
<text x="283.76" y="320.93" text-anchor="middle">60</text>
<line x1="312.58" y1="312.4" x2="312.58" y2="314.6" stroke="#3a3a3a" stroke-width="0.9"/>
<text x="312.58" y="320.93" text-anchor="middle">80</text>
<text x="254.94" y="330.36" text-anchor="middle" font-size="7.2">Time (minutes)</text>
<text x="200.7" y="240.23">Oligomycin</text>
<text x="241.5" y="252.03" text-anchor="middle">FCCP</text>
<text x="257.7" y="231.03">Rotenone &</text>
<text x="258.5" y="240.23">antimycin A</text>
<line x1="299.4" y1="246.3" x2="306.9" y2="246.3" stroke="#111" stroke-width="0.9"/>
<circle cx="303.15" cy="246.3" r="1.6" fill="#111"/>
<text x="310.9" y="248.93">shNC</text>
<line x1="299.4" y1="256.2" x2="306.9" y2="256.2" stroke="#ec9330" stroke-width="0.9"/>
<rect x="301.55" y="254.6" width="3.2" height="3.2" fill="#ec9330"/>
<text x="310.9" y="258.83">shFUT8#1</text>
<text x="248" y="222.33" text-anchor="middle">Caki-1</text>
<text x="179.3" y="278.96" text-anchor="middle" font-size="7.2" transform="rotate(-90 179.3 276.4)">OCR (pmol/min/10⁴ cells)</text>
<text x="347.5" y="218.7" font-weight="bold" font-size="14.5">H</text>
<line x1="389.36" y1="270.5" x2="389.36" y2="312.9" stroke="#8a8a8a" stroke-width="0.6" stroke-dasharray="0.8 1.3"/>
<line x1="416.45" y1="246.5" x2="416.45" y2="312.9" stroke="#8a8a8a" stroke-width="0.6" stroke-dasharray="0.8 1.3"/>
<line x1="443.54" y1="241" x2="443.54" y2="312.9" stroke="#8a8a8a" stroke-width="0.6" stroke-dasharray="0.8 1.3"/>
<polyline points="371.3,297.13 380.33,298.25 389.36,296.2 398.39,277.84 407.42,273.94 416.45,271.35 425.48,248.35 434.51,245.75 443.54,244.26 452.57,289.9 461.6,293.98 470.63,296.02" fill="none" stroke="#111" stroke-width="0.9" stroke-linejoin="round"/>
<line x1="371.3" y1="296.2" x2="371.3" y2="298.06" stroke="#111" stroke-width="0.75"/>
<line x1="369.9" y1="296.2" x2="372.7" y2="296.2" stroke="#111" stroke-width="0.75"/>
<line x1="369.9" y1="298.06" x2="372.7" y2="298.06" stroke="#111" stroke-width="0.75"/>
<circle cx="371.3" cy="297.13" r="1.55" fill="#111"/>
<line x1="380.33" y1="297.32" x2="380.33" y2="299.17" stroke="#111" stroke-width="0.75"/>
<line x1="378.93" y1="297.32" x2="381.73" y2="297.32" stroke="#111" stroke-width="0.75"/>
<line x1="378.93" y1="299.17" x2="381.73" y2="299.17" stroke="#111" stroke-width="0.75"/>
<circle cx="380.33" cy="298.25" r="1.55" fill="#111"/>
<line x1="389.36" y1="294.72" x2="389.36" y2="297.69" stroke="#111" stroke-width="0.75"/>
<line x1="387.96" y1="294.72" x2="390.76" y2="294.72" stroke="#111" stroke-width="0.75"/>
<line x1="387.96" y1="297.69" x2="390.76" y2="297.69" stroke="#111" stroke-width="0.75"/>
<circle cx="389.36" cy="296.2" r="1.55" fill="#111"/>
<line x1="398.39" y1="276.91" x2="398.39" y2="278.77" stroke="#111" stroke-width="0.75"/>
<line x1="396.99" y1="276.91" x2="399.79" y2="276.91" stroke="#111" stroke-width="0.75"/>
<line x1="396.99" y1="278.77" x2="399.79" y2="278.77" stroke="#111" stroke-width="0.75"/>
<circle cx="398.39" cy="277.84" r="1.55" fill="#111"/>
<line x1="407.42" y1="272.46" x2="407.42" y2="275.43" stroke="#111" stroke-width="0.75"/>
<line x1="406.02" y1="272.46" x2="408.82" y2="272.46" stroke="#111" stroke-width="0.75"/>
<line x1="406.02" y1="275.43" x2="408.82" y2="275.43" stroke="#111" stroke-width="0.75"/>
<circle cx="407.42" cy="273.94" r="1.55" fill="#111"/>
<line x1="416.45" y1="269.86" x2="416.45" y2="272.83" stroke="#111" stroke-width="0.75"/>
<line x1="415.05" y1="269.86" x2="417.85" y2="269.86" stroke="#111" stroke-width="0.75"/>
<line x1="415.05" y1="272.83" x2="417.85" y2="272.83" stroke="#111" stroke-width="0.75"/>
<circle cx="416.45" cy="271.35" r="1.55" fill="#111"/>
<line x1="425.48" y1="246.86" x2="425.48" y2="249.83" stroke="#111" stroke-width="0.75"/>
<line x1="424.08" y1="246.86" x2="426.88" y2="246.86" stroke="#111" stroke-width="0.75"/>
<line x1="424.08" y1="249.83" x2="426.88" y2="249.83" stroke="#111" stroke-width="0.75"/>
<circle cx="425.48" cy="248.35" r="1.55" fill="#111"/>
<line x1="434.51" y1="244.26" x2="434.51" y2="247.23" stroke="#111" stroke-width="0.75"/>
<line x1="433.11" y1="244.26" x2="435.91" y2="244.26" stroke="#111" stroke-width="0.75"/>
<line x1="433.11" y1="247.23" x2="435.91" y2="247.23" stroke="#111" stroke-width="0.75"/>
<circle cx="434.51" cy="245.75" r="1.55" fill="#111"/>
<line x1="443.54" y1="242.04" x2="443.54" y2="246.49" stroke="#111" stroke-width="0.75"/>
<line x1="442.14" y1="242.04" x2="444.94" y2="242.04" stroke="#111" stroke-width="0.75"/>
<line x1="442.14" y1="246.49" x2="444.94" y2="246.49" stroke="#111" stroke-width="0.75"/>
<circle cx="443.54" cy="244.26" r="1.55" fill="#111"/>
<line x1="452.57" y1="288.41" x2="452.57" y2="291.38" stroke="#111" stroke-width="0.75"/>
<line x1="451.17" y1="288.41" x2="453.97" y2="288.41" stroke="#111" stroke-width="0.75"/>
<line x1="451.17" y1="291.38" x2="453.97" y2="291.38" stroke="#111" stroke-width="0.75"/>
<circle cx="452.57" cy="289.9" r="1.55" fill="#111"/>
<line x1="461.6" y1="292.5" x2="461.6" y2="295.46" stroke="#111" stroke-width="0.75"/>
<line x1="460.2" y1="292.5" x2="463" y2="292.5" stroke="#111" stroke-width="0.75"/>
<line x1="460.2" y1="295.46" x2="463" y2="295.46" stroke="#111" stroke-width="0.75"/>
<circle cx="461.6" cy="293.98" r="1.55" fill="#111"/>
<line x1="470.63" y1="294.35" x2="470.63" y2="297.69" stroke="#111" stroke-width="0.75"/>
<line x1="469.23" y1="294.35" x2="472.03" y2="294.35" stroke="#111" stroke-width="0.75"/>
<line x1="469.23" y1="297.69" x2="472.03" y2="297.69" stroke="#111" stroke-width="0.75"/>
<circle cx="470.63" cy="296.02" r="1.55" fill="#111"/>
<polyline points="371.3,304.55 380.33,305.11 389.36,304 398.39,291.57 407.42,291.01 416.45,289.71 425.48,276.36 434.51,275.24 443.54,273.76 452.57,294.54 461.6,299.36 470.63,302.51" fill="none" stroke="#3d9a4c" stroke-width="0.9" stroke-linejoin="round"/>
<rect x="369.85" y="303.1" width="2.9" height="2.9" fill="#3d9a4c"/>
<rect x="378.88" y="303.66" width="2.9" height="2.9" fill="#3d9a4c"/>
<rect x="387.91" y="302.55" width="2.9" height="2.9" fill="#3d9a4c"/>
<line x1="398.39" y1="290.08" x2="398.39" y2="293.05" stroke="#3d9a4c" stroke-width="0.75"/>
<line x1="396.99" y1="290.08" x2="399.79" y2="290.08" stroke="#3d9a4c" stroke-width="0.75"/>
<line x1="396.99" y1="293.05" x2="399.79" y2="293.05" stroke="#3d9a4c" stroke-width="0.75"/>
<rect x="396.94" y="290.12" width="2.9" height="2.9" fill="#3d9a4c"/>
<line x1="407.42" y1="289.9" x2="407.42" y2="292.12" stroke="#3d9a4c" stroke-width="0.75"/>
<line x1="406.02" y1="289.9" x2="408.82" y2="289.9" stroke="#3d9a4c" stroke-width="0.75"/>
<line x1="406.02" y1="292.12" x2="408.82" y2="292.12" stroke="#3d9a4c" stroke-width="0.75"/>
<rect x="405.97" y="289.56" width="2.9" height="2.9" fill="#3d9a4c"/>
<line x1="416.45" y1="288.78" x2="416.45" y2="290.64" stroke="#3d9a4c" stroke-width="0.75"/>
<line x1="415.05" y1="288.78" x2="417.85" y2="288.78" stroke="#3d9a4c" stroke-width="0.75"/>
<line x1="415.05" y1="290.64" x2="417.85" y2="290.64" stroke="#3d9a4c" stroke-width="0.75"/>
<rect x="415" y="288.26" width="2.9" height="2.9" fill="#3d9a4c"/>
<line x1="425.48" y1="275.24" x2="425.48" y2="277.47" stroke="#3d9a4c" stroke-width="0.75"/>
<line x1="424.08" y1="275.24" x2="426.88" y2="275.24" stroke="#3d9a4c" stroke-width="0.75"/>
<line x1="424.08" y1="277.47" x2="426.88" y2="277.47" stroke="#3d9a4c" stroke-width="0.75"/>
<rect x="424.03" y="274.91" width="2.9" height="2.9" fill="#3d9a4c"/>
<line x1="434.51" y1="273.76" x2="434.51" y2="276.73" stroke="#3d9a4c" stroke-width="0.75"/>
<line x1="433.11" y1="273.76" x2="435.91" y2="273.76" stroke="#3d9a4c" stroke-width="0.75"/>
<line x1="433.11" y1="276.73" x2="435.91" y2="276.73" stroke="#3d9a4c" stroke-width="0.75"/>
<rect x="433.06" y="273.79" width="2.9" height="2.9" fill="#3d9a4c"/>
<line x1="443.54" y1="270.98" x2="443.54" y2="276.54" stroke="#3d9a4c" stroke-width="0.75"/>
<line x1="442.14" y1="270.98" x2="444.94" y2="270.98" stroke="#3d9a4c" stroke-width="0.75"/>
<line x1="442.14" y1="276.54" x2="444.94" y2="276.54" stroke="#3d9a4c" stroke-width="0.75"/>
<rect x="442.09" y="272.31" width="2.9" height="2.9" fill="#3d9a4c"/>
<line x1="452.57" y1="293.42" x2="452.57" y2="295.65" stroke="#3d9a4c" stroke-width="0.75"/>
<line x1="451.17" y1="293.42" x2="453.97" y2="293.42" stroke="#3d9a4c" stroke-width="0.75"/>
<line x1="451.17" y1="295.65" x2="453.97" y2="295.65" stroke="#3d9a4c" stroke-width="0.75"/>
<rect x="451.12" y="293.09" width="2.9" height="2.9" fill="#3d9a4c"/>
<line x1="461.6" y1="298.43" x2="461.6" y2="300.29" stroke="#3d9a4c" stroke-width="0.75"/>
<line x1="460.2" y1="298.43" x2="463" y2="298.43" stroke="#3d9a4c" stroke-width="0.75"/>
<line x1="460.2" y1="300.29" x2="463" y2="300.29" stroke="#3d9a4c" stroke-width="0.75"/>
<rect x="460.15" y="297.91" width="2.9" height="2.9" fill="#3d9a4c"/>
<rect x="469.18" y="301.06" width="2.9" height="2.9" fill="#3d9a4c"/>
<line x1="369.3" y1="312.9" x2="369.3" y2="238.7" stroke="#3a3a3a" stroke-width="0.9"/>
<line x1="366.9" y1="312.9" x2="369.3" y2="312.9" stroke="#3a3a3a" stroke-width="0.9"/>
<text x="365.7" y="315.53" text-anchor="end">0</text>
<line x1="366.9" y1="294.35" x2="369.3" y2="294.35" stroke="#3a3a3a" stroke-width="0.9"/>
<text x="365.7" y="296.98" text-anchor="end">10</text>
<line x1="366.9" y1="275.8" x2="369.3" y2="275.8" stroke="#3a3a3a" stroke-width="0.9"/>
<text x="365.7" y="278.43" text-anchor="end">20</text>
<line x1="366.9" y1="257.25" x2="369.3" y2="257.25" stroke="#3a3a3a" stroke-width="0.9"/>
<text x="365.7" y="259.88" text-anchor="end">30</text>
<line x1="366.9" y1="238.7" x2="369.3" y2="238.7" stroke="#3a3a3a" stroke-width="0.9"/>
<text x="365.7" y="241.33" text-anchor="end">40</text>
<line x1="369.3" y1="312.9" x2="480.58" y2="312.9" stroke="#3a3a3a" stroke-width="0.9"/>
<line x1="369.3" y1="312.9" x2="369.3" y2="315.1" stroke="#3a3a3a" stroke-width="0.9"/>
<text x="369.3" y="321.43" text-anchor="middle">0</text>
<line x1="397.12" y1="312.9" x2="397.12" y2="315.1" stroke="#3a3a3a" stroke-width="0.9"/>
<text x="397.12" y="321.43" text-anchor="middle">20</text>
<line x1="424.94" y1="312.9" x2="424.94" y2="315.1" stroke="#3a3a3a" stroke-width="0.9"/>
<text x="424.94" y="321.43" text-anchor="middle">40</text>
<line x1="452.76" y1="312.9" x2="452.76" y2="315.1" stroke="#3a3a3a" stroke-width="0.9"/>
<text x="452.76" y="321.43" text-anchor="middle">60</text>
<line x1="480.58" y1="312.9" x2="480.58" y2="315.1" stroke="#3a3a3a" stroke-width="0.9"/>
<text x="480.58" y="321.43" text-anchor="middle">80</text>
<text x="424.94" y="330.96" text-anchor="middle" font-size="7.2">Time (minutes)</text>
<text x="376.3" y="267.83">Glucose</text>
<text x="397.3" y="244.63">Oligomycin</text>
<text x="434" y="236.23">2-DG</text>
<line x1="470" y1="246.8" x2="477.5" y2="246.8" stroke="#111" stroke-width="0.9"/>
<circle cx="473.75" cy="246.8" r="1.6" fill="#111"/>
<text x="481.5" y="249.43">shNC</text>
<line x1="470" y1="256.1" x2="477.5" y2="256.1" stroke="#3d9a4c" stroke-width="0.9"/>
<rect x="472.15" y="254.5" width="3.2" height="3.2" fill="#3d9a4c"/>
<text x="481.5" y="258.73">shFUT8#1</text>
<text x="423.6" y="222.33" text-anchor="middle">786-O</text>
<text x="351.5" y="276.76" text-anchor="middle" font-size="7.2" transform="rotate(-90 351.5 274.2)">ECAR (mpH/min/10⁴ cells)</text>
<line x1="559.9" y1="270.5" x2="559.9" y2="312.8" stroke="#8a8a8a" stroke-width="0.6" stroke-dasharray="0.8 1.3"/>
<line x1="586.75" y1="246.5" x2="586.75" y2="312.8" stroke="#8a8a8a" stroke-width="0.6" stroke-dasharray="0.8 1.3"/>
<line x1="613.6" y1="241" x2="613.6" y2="312.8" stroke="#8a8a8a" stroke-width="0.6" stroke-dasharray="0.8 1.3"/>
<polyline points="542,305.75 550.95,306.49 559.9,305.17 568.85,281.24 577.8,280.21 586.75,278.6 595.7,263.03 604.65,261.71 613.6,260.98 622.55,290.63 631.5,295.18 640.45,295.62" fill="none" stroke="#111" stroke-width="0.9" stroke-linejoin="round"/>
<line x1="542" y1="304.87" x2="542" y2="306.63" stroke="#111" stroke-width="0.75"/>
<line x1="540.6" y1="304.87" x2="543.4" y2="304.87" stroke="#111" stroke-width="0.75"/>
<line x1="540.6" y1="306.63" x2="543.4" y2="306.63" stroke="#111" stroke-width="0.75"/>
<circle cx="542" cy="305.75" r="1.55" fill="#111"/>
<line x1="550.95" y1="305.61" x2="550.95" y2="307.37" stroke="#111" stroke-width="0.75"/>
<line x1="549.55" y1="305.61" x2="552.35" y2="305.61" stroke="#111" stroke-width="0.75"/>
<line x1="549.55" y1="307.37" x2="552.35" y2="307.37" stroke="#111" stroke-width="0.75"/>
<circle cx="550.95" cy="306.49" r="1.55" fill="#111"/>
<line x1="559.9" y1="304.43" x2="559.9" y2="305.9" stroke="#111" stroke-width="0.75"/>
<line x1="558.5" y1="304.43" x2="561.3" y2="304.43" stroke="#111" stroke-width="0.75"/>
<line x1="558.5" y1="305.9" x2="561.3" y2="305.9" stroke="#111" stroke-width="0.75"/>
<circle cx="559.9" cy="305.17" r="1.55" fill="#111"/>
<line x1="568.85" y1="279.77" x2="568.85" y2="282.71" stroke="#111" stroke-width="0.75"/>
<line x1="567.45" y1="279.77" x2="570.25" y2="279.77" stroke="#111" stroke-width="0.75"/>
<line x1="567.45" y1="282.71" x2="570.25" y2="282.71" stroke="#111" stroke-width="0.75"/>
<circle cx="568.85" cy="281.24" r="1.55" fill="#111"/>
<line x1="577.8" y1="278.45" x2="577.8" y2="281.97" stroke="#111" stroke-width="0.75"/>
<line x1="576.4" y1="278.45" x2="579.2" y2="278.45" stroke="#111" stroke-width="0.75"/>
<line x1="576.4" y1="281.97" x2="579.2" y2="281.97" stroke="#111" stroke-width="0.75"/>
<circle cx="577.8" cy="280.21" r="1.55" fill="#111"/>
<line x1="586.75" y1="277.13" x2="586.75" y2="280.06" stroke="#111" stroke-width="0.75"/>
<line x1="585.35" y1="277.13" x2="588.15" y2="277.13" stroke="#111" stroke-width="0.75"/>
<line x1="585.35" y1="280.06" x2="588.15" y2="280.06" stroke="#111" stroke-width="0.75"/>
<circle cx="586.75" cy="278.6" r="1.55" fill="#111"/>
<line x1="595.7" y1="260.1" x2="595.7" y2="265.97" stroke="#111" stroke-width="0.75"/>
<line x1="594.3" y1="260.1" x2="597.1" y2="260.1" stroke="#111" stroke-width="0.75"/>
<line x1="594.3" y1="265.97" x2="597.1" y2="265.97" stroke="#111" stroke-width="0.75"/>
<circle cx="595.7" cy="263.03" r="1.55" fill="#111"/>
<line x1="604.65" y1="258.78" x2="604.65" y2="264.65" stroke="#111" stroke-width="0.75"/>
<line x1="603.25" y1="258.78" x2="606.05" y2="258.78" stroke="#111" stroke-width="0.75"/>
<line x1="603.25" y1="264.65" x2="606.05" y2="264.65" stroke="#111" stroke-width="0.75"/>
<circle cx="604.65" cy="261.71" r="1.55" fill="#111"/>
<line x1="613.6" y1="257.31" x2="613.6" y2="264.65" stroke="#111" stroke-width="0.75"/>
<line x1="612.2" y1="257.31" x2="615" y2="257.31" stroke="#111" stroke-width="0.75"/>
<line x1="612.2" y1="264.65" x2="615" y2="264.65" stroke="#111" stroke-width="0.75"/>
<circle cx="613.6" cy="260.98" r="1.55" fill="#111"/>
<line x1="622.55" y1="288.87" x2="622.55" y2="292.39" stroke="#111" stroke-width="0.75"/>
<line x1="621.15" y1="288.87" x2="623.95" y2="288.87" stroke="#111" stroke-width="0.75"/>
<line x1="621.15" y1="292.39" x2="623.95" y2="292.39" stroke="#111" stroke-width="0.75"/>
<circle cx="622.55" cy="290.63" r="1.55" fill="#111"/>
<line x1="631.5" y1="293.72" x2="631.5" y2="296.65" stroke="#111" stroke-width="0.75"/>
<line x1="630.1" y1="293.72" x2="632.9" y2="293.72" stroke="#111" stroke-width="0.75"/>
<line x1="630.1" y1="296.65" x2="632.9" y2="296.65" stroke="#111" stroke-width="0.75"/>
<circle cx="631.5" cy="295.18" r="1.55" fill="#111"/>
<line x1="640.45" y1="294.16" x2="640.45" y2="297.09" stroke="#111" stroke-width="0.75"/>
<line x1="639.05" y1="294.16" x2="641.85" y2="294.16" stroke="#111" stroke-width="0.75"/>
<line x1="639.05" y1="297.09" x2="641.85" y2="297.09" stroke="#111" stroke-width="0.75"/>
<circle cx="640.45" cy="295.62" r="1.55" fill="#111"/>
<polyline points="542,306.49 550.95,306.93 559.9,306.49 568.85,292.54 577.8,289.9 586.75,288.58 595.7,278.6 604.65,277.57 613.6,276.25 622.55,299.73 631.5,300.47 640.45,300.47" fill="none" stroke="#3d9a4c" stroke-width="0.9" stroke-linejoin="round"/>
<rect x="540.55" y="305.04" width="2.9" height="2.9" fill="#3d9a4c"/>
<rect x="549.5" y="305.48" width="2.9" height="2.9" fill="#3d9a4c"/>
<rect x="558.45" y="305.04" width="2.9" height="2.9" fill="#3d9a4c"/>
<rect x="567.4" y="291.09" width="2.9" height="2.9" fill="#3d9a4c"/>
<rect x="576.35" y="288.45" width="2.9" height="2.9" fill="#3d9a4c"/>
<rect x="585.3" y="287.13" width="2.9" height="2.9" fill="#3d9a4c"/>
<rect x="594.25" y="277.15" width="2.9" height="2.9" fill="#3d9a4c"/>
<rect x="603.2" y="276.12" width="2.9" height="2.9" fill="#3d9a4c"/>
<line x1="613.6" y1="275.51" x2="613.6" y2="276.98" stroke="#3d9a4c" stroke-width="0.75"/>
<line x1="612.2" y1="275.51" x2="615" y2="275.51" stroke="#3d9a4c" stroke-width="0.75"/>
<line x1="612.2" y1="276.98" x2="615" y2="276.98" stroke="#3d9a4c" stroke-width="0.75"/>
<rect x="612.15" y="274.8" width="2.9" height="2.9" fill="#3d9a4c"/>
<rect x="621.1" y="298.28" width="2.9" height="2.9" fill="#3d9a4c"/>
<rect x="630.05" y="299.02" width="2.9" height="2.9" fill="#3d9a4c"/>
<rect x="639" y="299.02" width="2.9" height="2.9" fill="#3d9a4c"/>
<line x1="539.7" y1="312.8" x2="539.7" y2="239.4" stroke="#3a3a3a" stroke-width="0.9"/>
<line x1="537.3" y1="312.8" x2="539.7" y2="312.8" stroke="#3a3a3a" stroke-width="0.9"/>
<text x="536.1" y="315.43" text-anchor="end">0</text>
<line x1="537.3" y1="298.12" x2="539.7" y2="298.12" stroke="#3a3a3a" stroke-width="0.9"/>
<text x="536.1" y="300.75" text-anchor="end">10</text>
<line x1="537.3" y1="283.44" x2="539.7" y2="283.44" stroke="#3a3a3a" stroke-width="0.9"/>
<text x="536.1" y="286.07" text-anchor="end">20</text>
<line x1="537.3" y1="268.76" x2="539.7" y2="268.76" stroke="#3a3a3a" stroke-width="0.9"/>
<text x="536.1" y="271.39" text-anchor="end">30</text>
<line x1="537.3" y1="254.08" x2="539.7" y2="254.08" stroke="#3a3a3a" stroke-width="0.9"/>
<text x="536.1" y="256.71" text-anchor="end">40</text>
<line x1="537.3" y1="239.4" x2="539.7" y2="239.4" stroke="#3a3a3a" stroke-width="0.9"/>
<text x="536.1" y="242.03" text-anchor="end">50</text>
<line x1="539.7" y1="312.8" x2="650.18" y2="312.8" stroke="#3a3a3a" stroke-width="0.9"/>
<line x1="539.7" y1="312.8" x2="539.7" y2="315" stroke="#3a3a3a" stroke-width="0.9"/>
<text x="539.7" y="321.33" text-anchor="middle">0</text>
<line x1="567.32" y1="312.8" x2="567.32" y2="315" stroke="#3a3a3a" stroke-width="0.9"/>
<text x="567.32" y="321.33" text-anchor="middle">20</text>
<line x1="594.94" y1="312.8" x2="594.94" y2="315" stroke="#3a3a3a" stroke-width="0.9"/>
<text x="594.94" y="321.33" text-anchor="middle">40</text>
<line x1="622.56" y1="312.8" x2="622.56" y2="315" stroke="#3a3a3a" stroke-width="0.9"/>
<text x="622.56" y="321.33" text-anchor="middle">60</text>
<line x1="650.18" y1="312.8" x2="650.18" y2="315" stroke="#3a3a3a" stroke-width="0.9"/>
<text x="650.18" y="321.33" text-anchor="middle">80</text>
<text x="594.94" y="330.86" text-anchor="middle" font-size="7.2">Time (minutes)</text>
<text x="547" y="268.33">Glucose</text>
<text x="568" y="244.63">Oligomycin</text>
<text x="604.8" y="236.23">2-DG</text>
<line x1="639.5" y1="246.8" x2="647" y2="246.8" stroke="#111" stroke-width="0.9"/>
<circle cx="643.25" cy="246.8" r="1.6" fill="#111"/>
<text x="651" y="249.43">shNC</text>
<line x1="639.5" y1="256.1" x2="647" y2="256.1" stroke="#3d9a4c" stroke-width="0.9"/>
<rect x="641.65" y="254.5" width="3.2" height="3.2" fill="#3d9a4c"/>
<text x="651" y="258.73">shFUT8#1</text>
<text x="593" y="222.33" text-anchor="middle">Caki-1</text>
<text x="524.3" y="276.76" text-anchor="middle" font-size="7.2" transform="rotate(-90 524.3 274.2)">ECAR (mpH/min/10⁴ cells)</text>
<text x="1.3" y="345.8" font-weight="bold" font-size="14.5">G</text>
<rect x="42.9" y="442.07" width="11.7" height="13.23" fill="#fff" stroke="#111" stroke-width="0.9"/>
<line x1="48.75" y1="443.68" x2="48.75" y2="440.1" stroke="#111" stroke-width="0.8"/>
<line x1="45.59" y1="440.1" x2="51.91" y2="440.1" stroke="#111" stroke-width="0.8"/>
<line x1="45.59" y1="443.68" x2="51.91" y2="443.68" stroke="#111" stroke-width="0.8"/>
<circle cx="46.95" cy="440.1" r="1.5" fill="#111"/>
<circle cx="50.55" cy="440.55" r="1.5" fill="#111"/>
<circle cx="48.75" cy="443.68" r="1.5" fill="#111"/>
<rect x="60.8" y="403.89" width="11.7" height="51.41" fill="#fff" stroke="#ec9b40" stroke-width="0.9"/>
<rect x="62.65" y="402.39" width="3" height="3" fill="#ec9330"/>
<rect x="65.15" y="401.95" width="3" height="3" fill="#ec9330"/>
<rect x="67.65" y="402.22" width="3" height="3" fill="#ec9330"/>
<rect x="90.6" y="438.31" width="11.7" height="16.99" fill="#fff" stroke="#111" stroke-width="0.9"/>
<line x1="96.45" y1="441.44" x2="96.45" y2="434.29" stroke="#111" stroke-width="0.8"/>
<line x1="93.29" y1="434.29" x2="99.61" y2="434.29" stroke="#111" stroke-width="0.8"/>
<line x1="93.29" y1="441.44" x2="99.61" y2="441.44" stroke="#111" stroke-width="0.8"/>
<circle cx="96.45" cy="433.84" r="1.5" fill="#111"/>
<circle cx="94.25" cy="440.1" r="1.5" fill="#111"/>
<circle cx="98.65" cy="438.76" r="1.5" fill="#111"/>
<rect x="108.7" y="390.66" width="11.7" height="64.64" fill="#fff" stroke="#ec9b40" stroke-width="0.9"/>
<line x1="114.55" y1="399.87" x2="114.55" y2="381.1" stroke="#ec9330" stroke-width="0.8"/>
<line x1="111.39" y1="381.1" x2="117.71" y2="381.1" stroke="#ec9330" stroke-width="0.8"/>
<line x1="111.39" y1="399.87" x2="117.71" y2="399.87" stroke="#ec9330" stroke-width="0.8"/>
<rect x="113.05" y="379.6" width="3" height="3" fill="#ec9330"/>
<rect x="110.55" y="393.9" width="3" height="3" fill="#ec9330"/>
<rect x="115.55" y="393.01" width="3" height="3" fill="#ec9330"/>
<line x1="36.7" y1="455.3" x2="36.7" y2="365.9" stroke="#3a3a3a" stroke-width="0.9"/>
<line x1="33.7" y1="455.3" x2="36.7" y2="455.3" stroke="#3a3a3a" stroke-width="0.9"/>
<text x="32.1" y="457.93" text-anchor="end">0</text>
<line x1="33.7" y1="437.42" x2="36.7" y2="437.42" stroke="#3a3a3a" stroke-width="0.9"/>
<text x="32.1" y="440.05" text-anchor="end">20</text>
<line x1="33.7" y1="419.54" x2="36.7" y2="419.54" stroke="#3a3a3a" stroke-width="0.9"/>
<text x="32.1" y="422.17" text-anchor="end">40</text>
<line x1="33.7" y1="401.66" x2="36.7" y2="401.66" stroke="#3a3a3a" stroke-width="0.9"/>
<text x="32.1" y="404.29" text-anchor="end">60</text>
<line x1="33.7" y1="383.78" x2="36.7" y2="383.78" stroke="#3a3a3a" stroke-width="0.9"/>
<text x="32.1" y="386.41" text-anchor="end">80</text>
<line x1="33.7" y1="365.9" x2="36.7" y2="365.9" stroke="#3a3a3a" stroke-width="0.9"/>
<text x="32.1" y="368.53" text-anchor="end">100</text>
<line x1="36.7" y1="455.3" x2="126.6" y2="455.3" stroke="#3a3a3a" stroke-width="0.9"/>
<line x1="57.6" y1="455.3" x2="57.6" y2="458.7" stroke="#3a3a3a" stroke-width="0.9"/>
<text x="57.6" y="466.93" text-anchor="middle">Basal</text>
<text x="57.6" y="475.63" text-anchor="middle">Respiration</text>
<line x1="105.5" y1="455.3" x2="105.5" y2="458.7" stroke="#3a3a3a" stroke-width="0.9"/>
<text x="105.5" y="466.93" text-anchor="middle">Maximal</text>
<text x="105.5" y="475.63" text-anchor="middle">Respiration</text>
<line x1="49" y1="369.5" x2="66.9" y2="369.5" stroke="#5a5a5a" stroke-width="0.9"/>
<path d="M48.55 360.86V366.14M46.26 362.18L50.84 364.82M46.26 364.82L50.84 362.18M55.15 360.86V366.14M52.86 362.18L57.44 364.82M52.86 364.82L57.44 362.18M61.75 360.86V366.14M59.46 362.18L64.04 364.82M59.46 364.82L64.04 362.18M68.35 360.86V366.14M66.06 362.18L70.64 364.82M66.06 364.82L70.64 362.18" stroke="#111" stroke-width="0.99" fill="none"/>
<line x1="96.7" y1="369.5" x2="114.8" y2="369.5" stroke="#5a5a5a" stroke-width="0.9"/>
<path d="M102.6 360.96V366.24M100.31 362.28L104.89 364.92M100.31 364.92L104.89 362.28M109.2 360.96V366.24M106.91 362.28L111.49 364.92M106.91 364.92L111.49 362.28" stroke="#111" stroke-width="0.99" fill="none"/>
<text x="8" y="413.58" text-anchor="middle" font-size="7.27" transform="rotate(-90 8 411)">OCR (pmol/min/10⁴ cells)</text>
<text x="83.1" y="349.43" text-anchor="middle">786-O</text>
<circle cx="130.8" cy="359.2" r="1.3" fill="#111"/>
<text x="139" y="361.83">shNC</text>
<rect x="129.5" y="367.1" width="2.6" height="2.6" fill="#ec9330"/>
<text x="139" y="371.03">shFUT8#1</text>
<rect x="214.4" y="413.3" width="11.3" height="42.5" fill="#fff" stroke="#111" stroke-width="0.9"/>
<line x1="220.05" y1="419.37" x2="220.05" y2="405.71" stroke="#111" stroke-width="0.8"/>
<line x1="217" y1="405.71" x2="223.1" y2="405.71" stroke="#111" stroke-width="0.8"/>
<line x1="217" y1="419.37" x2="223.1" y2="419.37" stroke="#111" stroke-width="0.8"/>
<circle cx="220.05" cy="405.71" r="1.5" fill="#111"/>
<circle cx="217.85" cy="417.85" r="1.5" fill="#111"/>
<circle cx="222.25" cy="416.33" r="1.5" fill="#111"/>
<rect x="232.3" y="395.38" width="11.8" height="60.42" fill="#fff" stroke="#ec9b40" stroke-width="0.9"/>
<line x1="238.2" y1="399.63" x2="238.2" y2="390.53" stroke="#ec9330" stroke-width="0.8"/>
<line x1="235.01" y1="390.53" x2="241.39" y2="390.53" stroke="#ec9330" stroke-width="0.8"/>
<line x1="235.01" y1="399.63" x2="241.39" y2="399.63" stroke="#ec9330" stroke-width="0.8"/>
<rect x="236.7" y="389.79" width="3" height="3" fill="#ec9330"/>
<rect x="234.5" y="395.86" width="3" height="3" fill="#ec9330"/>
<rect x="238.9" y="395.1" width="3" height="3" fill="#ec9330"/>
<rect x="263" y="404.19" width="11.8" height="51.61" fill="#fff" stroke="#111" stroke-width="0.9"/>
<line x1="268.9" y1="408.74" x2="268.9" y2="398.88" stroke="#111" stroke-width="0.8"/>
<line x1="265.71" y1="398.88" x2="272.09" y2="398.88" stroke="#111" stroke-width="0.8"/>
<line x1="265.71" y1="408.74" x2="272.09" y2="408.74" stroke="#111" stroke-width="0.8"/>
<circle cx="266.9" cy="398.88" r="1.5" fill="#111"/>
<circle cx="268.9" cy="407.22" r="1.5" fill="#111"/>
<circle cx="270.9" cy="405.71" r="1.5" fill="#111"/>
<rect x="280.9" y="380.36" width="11.8" height="75.44" fill="#fff" stroke="#ec9b40" stroke-width="0.9"/>
<rect x="282.8" y="378.4" width="3" height="3" fill="#ec9330"/>
<rect x="285.3" y="377.94" width="3" height="3" fill="#ec9330"/>
<rect x="287.8" y="378.7" width="3" height="3" fill="#ec9330"/>
<line x1="208.4" y1="455.8" x2="208.4" y2="364.72" stroke="#3a3a3a" stroke-width="0.9"/>
<line x1="205.4" y1="455.8" x2="208.4" y2="455.8" stroke="#3a3a3a" stroke-width="0.9"/>
<text x="202.7" y="458.43" text-anchor="end">0</text>
<line x1="205.4" y1="425.44" x2="208.4" y2="425.44" stroke="#3a3a3a" stroke-width="0.9"/>
<text x="202.7" y="428.07" text-anchor="end">20</text>
<line x1="205.4" y1="395.08" x2="208.4" y2="395.08" stroke="#3a3a3a" stroke-width="0.9"/>
<text x="202.7" y="397.71" text-anchor="end">40</text>
<line x1="205.4" y1="364.72" x2="208.4" y2="364.72" stroke="#3a3a3a" stroke-width="0.9"/>
<text x="202.7" y="367.35" text-anchor="end">60</text>
<line x1="208.4" y1="455.8" x2="303.2" y2="455.8" stroke="#3a3a3a" stroke-width="0.9"/>
<line x1="228.8" y1="455.8" x2="228.8" y2="459.2" stroke="#3a3a3a" stroke-width="0.9"/>
<text x="228.8" y="467.13" text-anchor="middle">Basal</text>
<text x="228.8" y="475.83" text-anchor="middle">Respiration</text>
<line x1="277.7" y1="455.8" x2="277.7" y2="459.2" stroke="#3a3a3a" stroke-width="0.9"/>
<text x="277.7" y="467.13" text-anchor="middle">Maximal</text>
<text x="277.7" y="475.83" text-anchor="middle">Respiration</text>
<line x1="219.9" y1="368.4" x2="238.4" y2="368.4" stroke="#5a5a5a" stroke-width="0.9"/>
<path d="M227 361V365.8M224.92 362.2L229.08 364.6M224.92 364.6L229.08 362.2M233 361V365.8M230.92 362.2L235.08 364.6M230.92 364.6L235.08 362.2" stroke="#111" stroke-width="0.9" fill="none"/>
<line x1="268.7" y1="368.4" x2="286.8" y2="368.4" stroke="#5a5a5a" stroke-width="0.9"/>
<path d="M274.8 361V365.8M272.72 362.2L276.88 364.6M272.72 364.6L276.88 362.2M280.8 361V365.8M278.72 362.2L282.88 364.6M278.72 364.6L282.88 362.2" stroke="#111" stroke-width="0.9" fill="none"/>
<text x="179" y="406.18" text-anchor="middle" font-size="7.27" transform="rotate(-90 179 403.6)">OCR (pmol/min/10⁴ cells)</text>
<text x="250.4" y="349.73" text-anchor="middle">Caki-1</text>
<circle cx="304.6" cy="359.4" r="1.3" fill="#111"/>
<text x="311" y="362.03">shNC</text>
<rect x="303.3" y="367.3" width="2.6" height="2.6" fill="#ec9330"/>
<text x="311" y="371.23">shFUT8#1</text>
<text x="348.3" y="346.1" font-weight="bold" font-size="14.5">I</text>
<rect x="382.6" y="425.58" width="12.1" height="31.02" fill="#fff" stroke="#111" stroke-width="0.9"/>
<line x1="388.65" y1="429.02" x2="388.65" y2="422.13" stroke="#111" stroke-width="0.8"/>
<line x1="385.38" y1="422.13" x2="391.92" y2="422.13" stroke="#111" stroke-width="0.8"/>
<line x1="385.38" y1="429.02" x2="391.92" y2="429.02" stroke="#111" stroke-width="0.8"/>
<circle cx="386.65" cy="422.59" r="1.5" fill="#111"/>
<circle cx="390.65" cy="425.58" r="1.5" fill="#111"/>
<circle cx="388.65" cy="428.33" r="1.5" fill="#111"/>
<rect x="400.4" y="438.22" width="11.9" height="18.38" fill="#fff" stroke="#4c9d59" stroke-width="0.9"/>
<line x1="406.35" y1="439.37" x2="406.35" y2="436.38" stroke="#3d9a4c" stroke-width="0.8"/>
<line x1="403.14" y1="436.38" x2="409.56" y2="436.38" stroke="#3d9a4c" stroke-width="0.8"/>
<line x1="403.14" y1="439.37" x2="409.56" y2="439.37" stroke="#3d9a4c" stroke-width="0.8"/>
<rect x="402.35" y="436.03" width="3" height="3" fill="#3d9a4c"/>
<rect x="404.85" y="436.49" width="3" height="3" fill="#3d9a4c"/>
<rect x="407.35" y="436.26" width="3" height="3" fill="#3d9a4c"/>
<rect x="431.4" y="390.88" width="12.4" height="65.72" fill="#fff" stroke="#111" stroke-width="0.9"/>
<line x1="437.6" y1="393.41" x2="437.6" y2="387.66" stroke="#111" stroke-width="0.8"/>
<line x1="434.25" y1="387.66" x2="440.95" y2="387.66" stroke="#111" stroke-width="0.8"/>
<line x1="434.25" y1="393.41" x2="440.95" y2="393.41" stroke="#111" stroke-width="0.8"/>
<circle cx="437.6" cy="387.66" r="1.5" fill="#111"/>
<circle cx="435.1" cy="392.26" r="1.5" fill="#111"/>
<circle cx="440.1" cy="391.57" r="1.5" fill="#111"/>
<rect x="449.8" y="418.45" width="12.4" height="38.15" fill="#fff" stroke="#4c9d59" stroke-width="0.9"/>
<line x1="456" y1="420.98" x2="456" y2="414.09" stroke="#3d9a4c" stroke-width="0.8"/>
<line x1="452.65" y1="414.09" x2="459.35" y2="414.09" stroke="#3d9a4c" stroke-width="0.8"/>
<line x1="452.65" y1="420.98" x2="459.35" y2="420.98" stroke="#3d9a4c" stroke-width="0.8"/>
<rect x="454.5" y="413.28" width="3" height="3" fill="#3d9a4c"/>
<rect x="452" y="418.33" width="3" height="3" fill="#3d9a4c"/>
<rect x="457" y="417.18" width="3" height="3" fill="#3d9a4c"/>
<line x1="376.5" y1="456.6" x2="376.5" y2="364.68" stroke="#3a3a3a" stroke-width="0.9"/>
<line x1="373.5" y1="456.6" x2="376.5" y2="456.6" stroke="#3a3a3a" stroke-width="0.9"/>
<text x="372.1" y="459.23" text-anchor="end">0</text>
<line x1="373.5" y1="433.62" x2="376.5" y2="433.62" stroke="#3a3a3a" stroke-width="0.9"/>
<text x="372.1" y="436.25" text-anchor="end">10</text>
<line x1="373.5" y1="410.64" x2="376.5" y2="410.64" stroke="#3a3a3a" stroke-width="0.9"/>
<text x="372.1" y="413.27" text-anchor="end">20</text>
<line x1="373.5" y1="387.66" x2="376.5" y2="387.66" stroke="#3a3a3a" stroke-width="0.9"/>
<text x="372.1" y="390.29" text-anchor="end">30</text>
<line x1="373.5" y1="364.68" x2="376.5" y2="364.68" stroke="#3a3a3a" stroke-width="0.9"/>
<text x="372.1" y="367.31" text-anchor="end">40</text>
<line x1="376.5" y1="456.6" x2="468" y2="456.6" stroke="#3a3a3a" stroke-width="0.9"/>
<line x1="397.3" y1="456.6" x2="397.3" y2="460" stroke="#3a3a3a" stroke-width="0.9"/>
<text x="397.3" y="467.93" text-anchor="middle">Glycolysis</text>
<line x1="446.4" y1="456.6" x2="446.4" y2="460" stroke="#3a3a3a" stroke-width="0.9"/>
<text x="446.4" y="467.93" text-anchor="middle">Glycolytic</text>
<text x="446.4" y="476.63" text-anchor="middle">Capacity</text>
<line x1="389.1" y1="363.4" x2="407.4" y2="363.4" stroke="#5a5a5a" stroke-width="0.9"/>
<path d="M395.5 356.28V361.72M393.14 357.64L397.86 360.36M393.14 360.36L397.86 357.64M402.3 356.28V361.72M399.94 357.64L404.66 360.36M399.94 360.36L404.66 357.64" stroke="#111" stroke-width="1.02" fill="none"/>
<line x1="438.1" y1="363.4" x2="456.8" y2="363.4" stroke="#5a5a5a" stroke-width="0.9"/>
<path d="M444.4 356.28V361.72M442.04 357.64L446.76 360.36M442.04 360.36L446.76 357.64M451.2 356.28V361.72M448.84 357.64L453.56 360.36M448.84 360.36L453.56 357.64" stroke="#111" stroke-width="1.02" fill="none"/>
<text x="351.8" y="411.5" text-anchor="middle" font-size="7.33" transform="rotate(-90 351.8 408.9)">ECAR (mpH/min/10⁴ cells)</text>
<text x="424.1" y="349.43" text-anchor="middle">786-O</text>
<circle cx="472.7" cy="359.4" r="1.3" fill="#111"/>
<text x="480.6" y="362.03">shNC</text>
<rect x="471.4" y="367.3" width="2.6" height="2.6" fill="#3d9a4c"/>
<text x="480.6" y="371.23">shFUT8#1</text>
<rect x="553.6" y="415.33" width="12.4" height="41.27" fill="#fff" stroke="#111" stroke-width="0.9"/>
<line x1="559.8" y1="419.08" x2="559.8" y2="411.58" stroke="#111" stroke-width="0.8"/>
<line x1="556.45" y1="411.58" x2="563.15" y2="411.58" stroke="#111" stroke-width="0.8"/>
<line x1="556.45" y1="419.08" x2="563.15" y2="419.08" stroke="#111" stroke-width="0.8"/>
<circle cx="557.8" cy="412.05" r="1.5" fill="#111"/>
<circle cx="561.8" cy="413.22" r="1.5" fill="#111"/>
<circle cx="559.8" cy="417.91" r="1.5" fill="#111"/>
<rect x="571.2" y="427.76" width="12.6" height="28.84" fill="#fff" stroke="#4c9d59" stroke-width="0.9"/>
<rect x="572.4" y="427.19" width="3" height="3" fill="#3d9a4c"/>
<rect x="576" y="426.26" width="3" height="3" fill="#3d9a4c"/>
<rect x="579.6" y="426.49" width="3" height="3" fill="#3d9a4c"/>
<rect x="602.7" y="386.48" width="12.7" height="70.12" fill="#fff" stroke="#111" stroke-width="0.9"/>
<line x1="609.05" y1="393.29" x2="609.05" y2="379.22" stroke="#111" stroke-width="0.8"/>
<line x1="605.62" y1="379.22" x2="612.48" y2="379.22" stroke="#111" stroke-width="0.8"/>
<line x1="605.62" y1="393.29" x2="612.48" y2="393.29" stroke="#111" stroke-width="0.8"/>
<circle cx="607.05" cy="381.56" r="1.5" fill="#111"/>
<circle cx="611.05" cy="383.91" r="1.5" fill="#111"/>
<circle cx="609.05" cy="393.29" r="1.5" fill="#111"/>
<rect x="621.1" y="409.23" width="12.6" height="47.37" fill="#fff" stroke="#4c9d59" stroke-width="0.9"/>
<rect x="622.3" y="407.5" width="3" height="3" fill="#3d9a4c"/>
<rect x="625.9" y="407.26" width="3" height="3" fill="#3d9a4c"/>
<rect x="629.5" y="407.5" width="3" height="3" fill="#3d9a4c"/>
<line x1="546.3" y1="456.6" x2="546.3" y2="362.8" stroke="#3a3a3a" stroke-width="0.9"/>
<line x1="543.3" y1="456.6" x2="546.3" y2="456.6" stroke="#3a3a3a" stroke-width="0.9"/>
<text x="541.7" y="459.23" text-anchor="end">0</text>
<line x1="543.3" y1="433.15" x2="546.3" y2="433.15" stroke="#3a3a3a" stroke-width="0.9"/>
<text x="541.7" y="435.78" text-anchor="end">10</text>
<line x1="543.3" y1="409.7" x2="546.3" y2="409.7" stroke="#3a3a3a" stroke-width="0.9"/>
<text x="541.7" y="412.33" text-anchor="end">20</text>
<line x1="543.3" y1="386.25" x2="546.3" y2="386.25" stroke="#3a3a3a" stroke-width="0.9"/>
<text x="541.7" y="388.88" text-anchor="end">30</text>
<line x1="543.3" y1="362.8" x2="546.3" y2="362.8" stroke="#3a3a3a" stroke-width="0.9"/>
<text x="541.7" y="365.43" text-anchor="end">40</text>
<line x1="546.3" y1="456.6" x2="639" y2="456.6" stroke="#3a3a3a" stroke-width="0.9"/>
<line x1="568.8" y1="456.6" x2="568.8" y2="460" stroke="#3a3a3a" stroke-width="0.9"/>
<text x="568.8" y="468.93" text-anchor="middle">Glycolysis</text>
<line x1="619.3" y1="456.6" x2="619.3" y2="460" stroke="#3a3a3a" stroke-width="0.9"/>
<text x="619.3" y="468.93" text-anchor="middle">Glycolytic</text>
<text x="619.3" y="477.63" text-anchor="middle">Capacity</text>
<line x1="560.3" y1="362.6" x2="578.9" y2="362.6" stroke="#5a5a5a" stroke-width="0.9"/>
<path d="M565.75 355.1V360.7M563.33 356.5L568.17 359.3M563.33 359.3L568.17 356.5M572.75 355.1V360.7M570.33 356.5L575.17 359.3M570.33 359.3L575.17 356.5" stroke="#111" stroke-width="1.05" fill="none"/>
<line x1="610.1" y1="362.6" x2="628.8" y2="362.6" stroke="#5a5a5a" stroke-width="0.9"/>
<path d="M615.15 355.1V360.7M612.73 356.5L617.57 359.3M612.73 359.3L617.57 356.5M622.15 355.1V360.7M619.73 356.5L624.57 359.3M619.73 359.3L624.57 356.5" stroke="#111" stroke-width="1.05" fill="none"/>
<text x="524" y="411.5" text-anchor="middle" font-size="7.33" transform="rotate(-90 524 408.9)">ECAR (mpH/min/10⁴ cells)</text>
<text x="594.3" y="349.43" text-anchor="middle">Caki-1</text>
<circle cx="643" cy="359.4" r="1.3" fill="#111"/>
<text x="650.8" y="362.03">shNC</text>
<rect x="641.7" y="367.3" width="2.6" height="2.6" fill="#3d9a4c"/>
<text x="650.8" y="371.23">shFUT8#1</text>
<text x="0.9" y="499.3" font-weight="bold" font-size="14.5">J</text>
<rect x="41" y="547.53" width="11.9" height="62.07" fill="#fff" stroke="#4c9d59" stroke-width="0.9"/>
<circle cx="43.15" cy="547.53" r="1.5" fill="#3d9a4c"/>
<circle cx="46.95" cy="546.91" r="1.5" fill="#3d9a4c"/>
<circle cx="50.75" cy="547.53" r="1.5" fill="#3d9a4c"/>
<rect x="59.6" y="588.5" width="11.9" height="21.1" fill="#fff" stroke="#ec9b40" stroke-width="0.9"/>
<rect x="60.25" y="587.31" width="3" height="3" fill="#ec9330"/>
<rect x="64.05" y="587" width="3" height="3" fill="#ec9330"/>
<rect x="67.85" y="587.31" width="3" height="3" fill="#ec9330"/>
<rect x="90.6" y="547.53" width="11.9" height="62.07" fill="#fff" stroke="#4c9d59" stroke-width="0.9"/>
<circle cx="92.75" cy="547.53" r="1.5" fill="#3d9a4c"/>
<circle cx="96.55" cy="547.22" r="1.5" fill="#3d9a4c"/>
<circle cx="100.35" cy="547.53" r="1.5" fill="#3d9a4c"/>
<rect x="109.2" y="570.5" width="12.4" height="39.1" fill="#fff" stroke="#ec9b40" stroke-width="0.9"/>
<rect x="110.1" y="569" width="3" height="3" fill="#ec9330"/>
<rect x="113.9" y="569" width="3" height="3" fill="#ec9330"/>
<rect x="117.7" y="569" width="3" height="3" fill="#ec9330"/>
<line x1="35.4" y1="609.6" x2="35.4" y2="516.5" stroke="#3a3a3a" stroke-width="0.9"/>
<line x1="32.4" y1="609.6" x2="35.4" y2="609.6" stroke="#3a3a3a" stroke-width="0.9"/>
<text x="29.8" y="612.33" text-anchor="end" font-size="7.7">0.0</text>
<line x1="32.4" y1="578.57" x2="35.4" y2="578.57" stroke="#3a3a3a" stroke-width="0.9"/>
<text x="29.8" y="581.3" text-anchor="end" font-size="7.7">0.5</text>
<line x1="32.4" y1="547.53" x2="35.4" y2="547.53" stroke="#3a3a3a" stroke-width="0.9"/>
<text x="29.8" y="550.26" text-anchor="end" font-size="7.7">1.0</text>
<line x1="32.4" y1="516.5" x2="35.4" y2="516.5" stroke="#3a3a3a" stroke-width="0.9"/>
<text x="29.8" y="519.23" text-anchor="end" font-size="7.7">1.5</text>
<line x1="35.4" y1="609.6" x2="125.3" y2="609.6" stroke="#3a3a3a" stroke-width="0.9"/>
<line x1="56.6" y1="609.6" x2="56.6" y2="613" stroke="#3a3a3a" stroke-width="0.9"/>
<text x="56.6" y="621.63" text-anchor="middle">786-O</text>
<line x1="106.7" y1="609.6" x2="106.7" y2="613" stroke="#3a3a3a" stroke-width="0.9"/>
<text x="106.7" y="621.63" text-anchor="middle">Caki-1</text>
<line x1="47.2" y1="535.4" x2="65.7" y2="535.4" stroke="#5a5a5a" stroke-width="0.9"/>
<path d="M46.95 526.32V531.68M44.63 527.66L49.27 530.34M44.63 530.34L49.27 527.66M53.65 526.32V531.68M51.33 527.66L55.97 530.34M51.33 530.34L55.97 527.66M60.35 526.32V531.68M58.03 527.66L62.67 530.34M58.03 530.34L62.67 527.66M67.05 526.32V531.68M64.73 527.66L69.37 530.34M64.73 530.34L69.37 527.66" stroke="#111" stroke-width="1" fill="none"/>
<line x1="97" y1="535.4" x2="115.3" y2="535.4" stroke="#5a5a5a" stroke-width="0.9"/>
<path d="M96.6 526.36V531.64M94.31 527.68L98.89 530.32M94.31 530.32L98.89 527.68M103.2 526.36V531.64M100.91 527.68L105.49 530.32M100.91 530.32L105.49 527.68M109.8 526.36V531.64M107.51 527.68L112.09 530.32M107.51 530.32L112.09 527.68M116.4 526.36V531.64M114.11 527.68L118.69 530.32M114.11 530.32L118.69 527.68" stroke="#111" stroke-width="0.99" fill="none"/>
<text x="4.6" y="567.6" text-anchor="middle" font-size="7.33" transform="rotate(-90 4.6 565)">Relative intracellular</text>
<text x="13.7" y="566.6" text-anchor="middle" font-size="7.33" transform="rotate(-90 13.7 564)">lactate levels</text>
<circle cx="130.8" cy="523.6" r="1.3" fill="#3d9a4c"/>
<text x="136.8" y="526.23">shNC</text>
<rect x="129.5" y="532.1" width="2.6" height="2.6" fill="#ec9330"/>
<text x="136.8" y="536.03">shFUT8#1</text>
<text x="175.8" y="499.6" font-weight="bold" font-size="14.5">K</text>
<text x="224.6" y="526" transform="rotate(-45 224.6 526)">siNC</text>
<text x="245" y="526" transform="rotate(-45 245 526)">siHIF-1α#1</text>
<text x="272.8" y="526" transform="rotate(-45 272.8 526)">siHIF-1α#2</text>
<text x="292.8" y="527.33">kDa</text>
<rect x="218.5" y="526.5" width="71.1" height="16.8" fill="#ececec"/>
<rect x="218.5" y="547" width="71.1" height="17.4" fill="#f2f2f2"/>
<rect x="218.5" y="576.3" width="71.1" height="17.1" fill="url(#gbg3)"/>
<rect x="218.5" y="596.7" width="71.1" height="17.3" fill="#f2f2f2"/>
<rect x="221.7" y="532.6" width="16.8" height="5" rx="2.5" fill="#000" fill-opacity="1" filter="url(#b0)"/>
<rect x="245" y="533.6" width="16.1" height="3.4" rx="1.7" fill="#000" fill-opacity="0.42" filter="url(#b1)"/>
<rect x="269.1" y="533.6" width="10.4" height="3.4" rx="1.7" fill="#000" fill-opacity="0.55" filter="url(#b1)"/>
<rect x="278.3" y="533.1" width="7.1" height="4.4" rx="2.2" fill="#000" fill-opacity="1" filter="url(#b0)"/>
<rect x="222.4" y="553.4" width="16.1" height="4.8" rx="2.4" fill="#000" fill-opacity="1" filter="url(#b0)"/>
<rect x="244.3" y="553.4" width="16.8" height="4.8" rx="2.4" fill="#000" fill-opacity="1" filter="url(#b0)"/>
<rect x="268.4" y="553.3" width="16.8" height="5" rx="2.5" fill="#000" fill-opacity="1" filter="url(#b0)"/>
<rect x="221.7" y="583.1" width="16.8" height="5.8" rx="2.5" fill="#000" fill-opacity="1" filter="url(#b0)"/>
<rect x="249" y="584.6" width="11" height="2.8" rx="1.4" fill="#000" fill-opacity="0.3" filter="url(#b1)"/>
<rect x="273" y="584.4" width="12.2" height="3.2" rx="1.6" fill="#000" fill-opacity="0.65" filter="url(#b1)"/>
<rect x="221.7" y="603.1" width="16" height="4.6" rx="2.3" fill="#000" fill-opacity="1" filter="url(#b0)"/>
<rect x="245" y="602.4" width="15.4" height="5" rx="2.5" fill="#000" fill-opacity="1" filter="url(#b0)"/>
<rect x="269.1" y="602.7" width="16.8" height="4.6" rx="2.3" fill="#000" fill-opacity="1" filter="url(#b0)"/>
<rect x="218.5" y="526.5" width="71.1" height="16.8" fill="none" stroke="#222" stroke-width="0.9"/>
<rect x="218.5" y="547" width="71.1" height="17.4" fill="none" stroke="#222" stroke-width="0.9"/>
<rect x="218.5" y="576.3" width="71.1" height="17.1" fill="none" stroke="#222" stroke-width="0.9"/>
<rect x="218.5" y="596.7" width="71.1" height="17.3" fill="none" stroke="#222" stroke-width="0.9"/>
<text x="217" y="537.23" text-anchor="end">HIF-1α</text>
<text x="217" y="558.33" text-anchor="end">β-actin</text>
<text x="217" y="587.93" text-anchor="end">HIF-1α</text>
<text x="217" y="607.43" text-anchor="end">β-actin</text>
<line x1="289.6" y1="539.6" x2="292.5" y2="539.6" stroke="#222" stroke-width="0.8"/>
<text x="292.8" y="542.23">100</text>
<line x1="289.6" y1="590.3" x2="292.5" y2="590.3" stroke="#222" stroke-width="0.8"/>
<text x="292.8" y="592.93">100</text>
<line x1="289.6" y1="553.2" x2="292.5" y2="553.2" stroke="#222" stroke-width="0.8"/>
<text x="292.8" y="555.83">43</text>
<line x1="289.6" y1="602.3" x2="292.5" y2="602.3" stroke="#222" stroke-width="0.8"/>
<text x="292.8" y="604.93">43</text>
<text x="253.1" y="573.23" text-anchor="middle">786-O</text>
<text x="253.1" y="622.83" text-anchor="middle">Caki-1</text>
<rect x="371.2" y="527.81" width="8.7" height="83.59" fill="#fff" stroke="#111" stroke-width="0.9"/>
<line x1="375.55" y1="531.05" x2="375.55" y2="523.27" stroke="#111" stroke-width="0.8"/>
<line x1="373.2" y1="523.27" x2="377.9" y2="523.27" stroke="#111" stroke-width="0.8"/>
<line x1="373.2" y1="531.05" x2="377.9" y2="531.05" stroke="#111" stroke-width="0.8"/>
<circle cx="375.55" cy="523.27" r="1.5" fill="#111"/>
<circle cx="374.05" cy="528.46" r="1.5" fill="#111"/>
<circle cx="377.05" cy="529.1" r="1.5" fill="#111"/>
<rect x="383.8" y="590.66" width="9" height="20.74" fill="#fff" stroke="#ec9b40" stroke-width="0.9"/>
<line x1="388.3" y1="595.2" x2="388.3" y2="584.18" stroke="#ec9330" stroke-width="0.8"/>
<line x1="385.87" y1="584.18" x2="390.73" y2="584.18" stroke="#ec9330" stroke-width="0.8"/>
<line x1="385.87" y1="595.2" x2="390.73" y2="595.2" stroke="#ec9330" stroke-width="0.8"/>
<rect x="386.8" y="582.68" width="3" height="3" fill="#ec9330"/>
<rect x="385" y="591.11" width="3" height="3" fill="#ec9330"/>
<rect x="388.6" y="590.46" width="3" height="3" fill="#ec9330"/>
<rect x="397" y="586.13" width="8.9" height="25.27" fill="#fff" stroke="#4c9d59" stroke-width="0.9"/>
<path d="M399.65 584.33L401.3 587.33L398 587.33Z" fill="#3d9a4c"/>
<path d="M401.45 583.68L403.1 586.68L399.8 586.68Z" fill="#3d9a4c"/>
<path d="M403.25 584.33L404.9 587.33L401.6 587.33Z" fill="#3d9a4c"/>
<rect x="419.3" y="555.67" width="8.4" height="55.73" fill="#fff" stroke="#111" stroke-width="0.9"/>
<line x1="423.5" y1="562.8" x2="423.5" y2="547.9" stroke="#111" stroke-width="0.8"/>
<line x1="421.23" y1="547.9" x2="425.77" y2="547.9" stroke="#111" stroke-width="0.8"/>
<line x1="421.23" y1="562.8" x2="425.77" y2="562.8" stroke="#111" stroke-width="0.8"/>
<circle cx="423.5" cy="547.25" r="1.5" fill="#111"/>
<circle cx="423" cy="556.97" r="1.5" fill="#111"/>
<circle cx="423.8" cy="561.5" r="1.5" fill="#111"/>
<rect x="432.2" y="584.83" width="8.7" height="26.57" fill="#fff" stroke="#ec9b40" stroke-width="0.9"/>
<rect x="435.05" y="578.8" width="3" height="3" fill="#ec9330"/>
<rect x="433.25" y="583.98" width="3" height="3" fill="#ec9330"/>
<rect x="436.85" y="583.98" width="3" height="3" fill="#ec9330"/>
<rect x="445.3" y="582.24" width="8.7" height="29.16" fill="#fff" stroke="#4c9d59" stroke-width="0.9"/>
<line x1="449.65" y1="590.02" x2="449.65" y2="573.82" stroke="#3d9a4c" stroke-width="0.8"/>
<line x1="447.3" y1="573.82" x2="452" y2="573.82" stroke="#3d9a4c" stroke-width="0.8"/>
<line x1="447.3" y1="590.02" x2="452" y2="590.02" stroke="#3d9a4c" stroke-width="0.8"/>
<path d="M449.65 572.66L451.3 575.66L448 575.66Z" fill="#3d9a4c"/>
<path d="M449.35 579.79L451 582.79L447.7 582.79Z" fill="#3d9a4c"/>
<path d="M449.65 588.22L451.3 591.22L448 591.22Z" fill="#3d9a4c"/>
<line x1="367.6" y1="611.4" x2="367.6" y2="514.2" stroke="#3a3a3a" stroke-width="0.9"/>
<line x1="364.6" y1="611.4" x2="367.6" y2="611.4" stroke="#3a3a3a" stroke-width="0.9"/>
<text x="361.6" y="614.13" text-anchor="end" font-size="7.7">0.0</text>
<line x1="364.6" y1="579" x2="367.6" y2="579" stroke="#3a3a3a" stroke-width="0.9"/>
<text x="361.6" y="581.73" text-anchor="end" font-size="7.7">0.5</text>
<line x1="364.6" y1="546.6" x2="367.6" y2="546.6" stroke="#3a3a3a" stroke-width="0.9"/>
<text x="361.6" y="549.33" text-anchor="end" font-size="7.7">1.0</text>
<line x1="364.6" y1="514.2" x2="367.6" y2="514.2" stroke="#3a3a3a" stroke-width="0.9"/>
<text x="361.6" y="516.93" text-anchor="end" font-size="7.7">1.5</text>
<line x1="367.6" y1="611.4" x2="458.7" y2="611.4" stroke="#3a3a3a" stroke-width="0.9"/>
<line x1="387.8" y1="611.4" x2="387.8" y2="614.8" stroke="#3a3a3a" stroke-width="0.9"/>
<text x="387.8" y="623.23" text-anchor="middle">786-O</text>
<line x1="436.1" y1="611.4" x2="436.1" y2="614.8" stroke="#3a3a3a" stroke-width="0.9"/>
<text x="436.1" y="623.23" text-anchor="middle">Caki-1</text>
<line x1="375.5" y1="507.7" x2="401.8" y2="507.7" stroke="#5a5a5a" stroke-width="0.9"/>
<path d="M378.15 500.74V506.26M375.76 502.12L380.54 504.88M375.76 504.88L380.54 502.12M385.05 500.74V506.26M382.66 502.12L387.44 504.88M382.66 504.88L387.44 502.12M391.95 500.74V506.26M389.56 502.12L394.34 504.88M389.56 504.88L394.34 502.12M398.85 500.74V506.26M396.46 502.12L401.24 504.88M396.46 504.88L401.24 502.12" stroke="#111" stroke-width="1.03" fill="none"/>
<line x1="376.2" y1="517.3" x2="388.6" y2="517.3" stroke="#5a5a5a" stroke-width="0.9"/>
<path d="M371.85 510.42V515.78M369.53 511.76L374.17 514.44M369.53 514.44L374.17 511.76M378.55 510.42V515.78M376.23 511.76L380.87 514.44M376.23 514.44L380.87 511.76M385.25 510.42V515.78M382.93 511.76L387.57 514.44M382.93 514.44L387.57 511.76M391.95 510.42V515.78M389.63 511.76L394.27 514.44M389.63 514.44L394.27 511.76" stroke="#111" stroke-width="1" fill="none"/>
<line x1="423.5" y1="507.7" x2="449.7" y2="507.7" stroke="#5a5a5a" stroke-width="0.9"/>
<path d="M432.7 500.62V506.38M430.21 502.06L435.19 504.94M430.21 504.94L435.19 502.06M439.9 500.62V506.38M437.41 502.06L442.39 504.94M437.41 504.94L442.39 502.06" stroke="#111" stroke-width="1.08" fill="none"/>
<line x1="423.7" y1="517.3" x2="436.6" y2="517.3" stroke="#5a5a5a" stroke-width="0.9"/>
<path d="M425.8 510.22V515.98M423.31 511.66L428.29 514.54M423.31 514.54L428.29 511.66M433 510.22V515.98M430.51 511.66L435.49 514.54M430.51 514.54L435.49 511.66" stroke="#111" stroke-width="1.08" fill="none"/>
<text x="335.8" y="568.5" text-anchor="middle" font-size="7.6" transform="rotate(-90 335.8 565.8)">Relative HIF-1α</text>
<text x="345" y="568" text-anchor="middle" font-size="7.6" transform="rotate(-90 345 565.3)">protein expression</text>
<circle cx="462.7" cy="502.3" r="1.3" fill="#111"/>
<text x="469.8" y="504.93">siNC</text>
<rect x="461.4" y="510.2" width="2.6" height="2.6" fill="#ec9330"/>
<text x="469.8" y="514.13">siHIF-1α#1</text>
<path d="M462.7 519.14L464.13 521.74L461.27 521.74Z" fill="#3d9a4c"/>
<text x="469.8" y="523.33">siHIF-1α#2</text>
<text x="518.3" y="500.2" font-weight="bold" font-size="14.5">L</text>
<rect x="555.4" y="546.6" width="7.9" height="64.8" fill="#fff" stroke="#111" stroke-width="0.9"/>
<line x1="559.35" y1="562.8" x2="559.35" y2="530.4" stroke="#111" stroke-width="0.8"/>
<line x1="557.22" y1="530.4" x2="561.48" y2="530.4" stroke="#111" stroke-width="0.8"/>
<line x1="557.22" y1="562.8" x2="561.48" y2="562.8" stroke="#111" stroke-width="0.8"/>
<circle cx="559.35" cy="535.58" r="1.5" fill="#111"/>
<circle cx="559.35" cy="538.82" r="1.5" fill="#111"/>
<circle cx="559.35" cy="567.34" r="1.5" fill="#111"/>
<rect x="568.1" y="586.13" width="8.4" height="25.27" fill="#fff" stroke="#ec9b40" stroke-width="0.9"/>
<rect x="569" y="583.98" width="3" height="3" fill="#ec9330"/>
<rect x="572.6" y="583.98" width="3" height="3" fill="#ec9330"/>
<rect x="570.8" y="588.52" width="3" height="3" fill="#ec9330"/>
<rect x="580.7" y="585.48" width="8.4" height="25.92" fill="#fff" stroke="#4c9d59" stroke-width="0.9"/>
<line x1="584.9" y1="590.02" x2="584.9" y2="580.3" stroke="#3d9a4c" stroke-width="0.8"/>
<line x1="582.63" y1="580.3" x2="587.17" y2="580.3" stroke="#3d9a4c" stroke-width="0.8"/>
<line x1="582.63" y1="590.02" x2="587.17" y2="590.02" stroke="#3d9a4c" stroke-width="0.8"/>
<path d="M584.9 578.5L586.55 581.5L583.25 581.5Z" fill="#3d9a4c"/>
<path d="M583.1 586.27L584.75 589.27L581.45 589.27Z" fill="#3d9a4c"/>
<path d="M586.7 586.27L588.35 589.27L585.05 589.27Z" fill="#3d9a4c"/>
<rect x="602.7" y="543.36" width="7.9" height="68.04" fill="#fff" stroke="#111" stroke-width="0.9"/>
<line x1="606.65" y1="560.86" x2="606.65" y2="526.51" stroke="#111" stroke-width="0.8"/>
<line x1="604.52" y1="526.51" x2="608.78" y2="526.51" stroke="#111" stroke-width="0.8"/>
<line x1="604.52" y1="560.86" x2="608.78" y2="560.86" stroke="#111" stroke-width="0.8"/>
<circle cx="606.65" cy="527.16" r="1.5" fill="#111"/>
<circle cx="607.15" cy="551.14" r="1.5" fill="#111"/>
<circle cx="606.65" cy="563.45" r="1.5" fill="#111"/>
<rect x="614.8" y="579.65" width="8.4" height="31.75" fill="#fff" stroke="#ec9b40" stroke-width="0.9"/>
<line x1="619" y1="584.18" x2="619" y2="574.46" stroke="#ec9330" stroke-width="0.8"/>
<line x1="616.73" y1="574.46" x2="621.27" y2="574.46" stroke="#ec9330" stroke-width="0.8"/>
<line x1="616.73" y1="584.18" x2="621.27" y2="584.18" stroke="#ec9330" stroke-width="0.8"/>
<rect x="617.5" y="572.96" width="3" height="3" fill="#ec9330"/>
<rect x="617.5" y="580.74" width="3" height="3" fill="#ec9330"/>
<rect x="617.5" y="582.68" width="3" height="3" fill="#ec9330"/>
<rect x="627.7" y="580.94" width="8.7" height="30.46" fill="#fff" stroke="#4c9d59" stroke-width="0.9"/>
<line x1="632.05" y1="586.78" x2="632.05" y2="573.82" stroke="#3d9a4c" stroke-width="0.8"/>
<line x1="629.7" y1="573.82" x2="634.4" y2="573.82" stroke="#3d9a4c" stroke-width="0.8"/>
<line x1="629.7" y1="586.78" x2="634.4" y2="586.78" stroke="#3d9a4c" stroke-width="0.8"/>
<path d="M632.05 572.02L633.7 575.02L630.4 575.02Z" fill="#3d9a4c"/>
<path d="M632.05 581.74L633.7 584.74L630.4 584.74Z" fill="#3d9a4c"/>
<path d="M632.05 583.68L633.7 586.68L630.4 586.68Z" fill="#3d9a4c"/>
<line x1="550.3" y1="611.4" x2="550.3" y2="514.2" stroke="#3a3a3a" stroke-width="0.9"/>
<line x1="547.3" y1="611.4" x2="550.3" y2="611.4" stroke="#3a3a3a" stroke-width="0.9"/>
<text x="545.4" y="614.13" text-anchor="end" font-size="7.7">0.0</text>
<line x1="547.3" y1="579" x2="550.3" y2="579" stroke="#3a3a3a" stroke-width="0.9"/>
<text x="545.4" y="581.73" text-anchor="end" font-size="7.7">0.5</text>
<line x1="547.3" y1="546.6" x2="550.3" y2="546.6" stroke="#3a3a3a" stroke-width="0.9"/>
<text x="545.4" y="549.33" text-anchor="end" font-size="7.7">1.0</text>
<line x1="547.3" y1="514.2" x2="550.3" y2="514.2" stroke="#3a3a3a" stroke-width="0.9"/>
<text x="545.4" y="516.93" text-anchor="end" font-size="7.7">1.5</text>
<line x1="550.3" y1="611.4" x2="640.3" y2="611.4" stroke="#3a3a3a" stroke-width="0.9"/>
<line x1="572.8" y1="611.4" x2="572.8" y2="614.8" stroke="#3a3a3a" stroke-width="0.9"/>
<text x="572.8" y="623.23" text-anchor="middle">786-O</text>
<line x1="618.5" y1="611.4" x2="618.5" y2="614.8" stroke="#3a3a3a" stroke-width="0.9"/>
<text x="618.5" y="623.23" text-anchor="middle">Caki-1</text>
<line x1="560.1" y1="509.6" x2="584.8" y2="509.6" stroke="#5a5a5a" stroke-width="0.9"/>
<path d="M568.8 502.08V507.52M566.44 503.44L571.16 506.16M566.44 506.16L571.16 503.44M575.6 502.08V507.52M573.24 503.44L577.96 506.16M573.24 506.16L577.96 503.44" stroke="#111" stroke-width="1.02" fill="none"/>
<line x1="560.1" y1="518.8" x2="572" y2="518.8" stroke="#5a5a5a" stroke-width="0.9"/>
<path d="M563.2 512.2V517.4M560.95 513.5L565.45 516.1M560.95 516.1L565.45 513.5M569.7 512.2V517.4M567.45 513.5L571.95 516.1M567.45 516.1L571.95 513.5" stroke="#111" stroke-width="0.97" fill="none"/>
<line x1="606.5" y1="509.6" x2="631.5" y2="509.6" stroke="#5a5a5a" stroke-width="0.9"/>
<path d="M618.7 502.08V507.52M616.34 503.44L621.06 506.16M616.34 506.16L621.06 503.44" stroke="#111" stroke-width="1.02" fill="none"/>
<line x1="606.5" y1="518.8" x2="618.7" y2="518.8" stroke="#5a5a5a" stroke-width="0.9"/>
<path d="M613.1 512.08V517.52M610.74 513.44L615.46 516.16M610.74 516.16L615.46 513.44" stroke="#111" stroke-width="1.02" fill="none"/>
<text x="521.3" y="568.7" text-anchor="middle" font-size="7.6" transform="rotate(-90 521.3 566)">Relative HIF-1α</text>
<text x="530.6" y="567.4" text-anchor="middle" font-size="7.6" transform="rotate(-90 530.6 564.7)">mRNA expression</text>
<circle cx="639" cy="502.3" r="1.3" fill="#111"/>
<text x="648.2" y="504.93">siNC</text>
<rect x="637.7" y="510.2" width="2.6" height="2.6" fill="#ec9330"/>
<text x="648.2" y="514.13">siHIF-1α#1</text>
<path d="M639 519.14L640.43 521.74L637.57 521.74Z" fill="#3d9a4c"/>
<text x="648.2" y="523.33">siHIF-1α#2</text>
<text x="1.2" y="642.4" font-weight="bold" font-size="14.5">M</text>
<line x1="52.74" y1="700.5" x2="52.74" y2="743" stroke="#8a8a8a" stroke-width="0.6" stroke-dasharray="0.8 1.3"/>
<line x1="79.95" y1="676.5" x2="79.95" y2="743" stroke="#8a8a8a" stroke-width="0.6" stroke-dasharray="0.8 1.3"/>
<line x1="107.16" y1="667.5" x2="107.16" y2="743" stroke="#8a8a8a" stroke-width="0.6" stroke-dasharray="0.8 1.3"/>
<polyline points="34.6,723.66 43.67,725.7 52.74,725.7 61.81,706.54 70.88,708.59 79.95,708.59 89.02,691.66 98.09,689.8 107.16,690.36 116.23,725.14 125.3,732.03 134.37,732.03" fill="none" stroke="#111" stroke-width="0.9" stroke-linejoin="round"/>
<circle cx="34.6" cy="723.66" r="1.55" fill="#111"/>
<circle cx="43.67" cy="725.7" r="1.55" fill="#111"/>
<circle cx="52.74" cy="725.7" r="1.55" fill="#111"/>
<line x1="61.81" y1="705.61" x2="61.81" y2="707.47" stroke="#111" stroke-width="0.75"/>
<line x1="60.41" y1="705.61" x2="63.21" y2="705.61" stroke="#111" stroke-width="0.75"/>
<line x1="60.41" y1="707.47" x2="63.21" y2="707.47" stroke="#111" stroke-width="0.75"/>
<circle cx="61.81" cy="706.54" r="1.55" fill="#111"/>
<line x1="70.88" y1="707.66" x2="70.88" y2="709.52" stroke="#111" stroke-width="0.75"/>
<line x1="69.48" y1="707.66" x2="72.28" y2="707.66" stroke="#111" stroke-width="0.75"/>
<line x1="69.48" y1="709.52" x2="72.28" y2="709.52" stroke="#111" stroke-width="0.75"/>
<circle cx="70.88" cy="708.59" r="1.55" fill="#111"/>
<line x1="79.95" y1="707.66" x2="79.95" y2="709.52" stroke="#111" stroke-width="0.75"/>
<line x1="78.55" y1="707.66" x2="81.35" y2="707.66" stroke="#111" stroke-width="0.75"/>
<line x1="78.55" y1="709.52" x2="81.35" y2="709.52" stroke="#111" stroke-width="0.75"/>
<circle cx="79.95" cy="708.59" r="1.55" fill="#111"/>
<line x1="89.02" y1="689.8" x2="89.02" y2="693.52" stroke="#111" stroke-width="0.75"/>
<line x1="87.62" y1="689.8" x2="90.42" y2="689.8" stroke="#111" stroke-width="0.75"/>
<line x1="87.62" y1="693.52" x2="90.42" y2="693.52" stroke="#111" stroke-width="0.75"/>
<circle cx="89.02" cy="691.66" r="1.55" fill="#111"/>
<line x1="98.09" y1="687.39" x2="98.09" y2="692.22" stroke="#111" stroke-width="0.75"/>
<line x1="96.69" y1="687.39" x2="99.49" y2="687.39" stroke="#111" stroke-width="0.75"/>
<line x1="96.69" y1="692.22" x2="99.49" y2="692.22" stroke="#111" stroke-width="0.75"/>
<circle cx="98.09" cy="689.8" r="1.55" fill="#111"/>
<line x1="107.16" y1="688.5" x2="107.16" y2="692.22" stroke="#111" stroke-width="0.75"/>
<line x1="105.76" y1="688.5" x2="108.56" y2="688.5" stroke="#111" stroke-width="0.75"/>
<line x1="105.76" y1="692.22" x2="108.56" y2="692.22" stroke="#111" stroke-width="0.75"/>
<circle cx="107.16" cy="690.36" r="1.55" fill="#111"/>
<circle cx="116.23" cy="725.14" r="1.55" fill="#111"/>
<line x1="125.3" y1="730.54" x2="125.3" y2="733.51" stroke="#111" stroke-width="0.75"/>
<line x1="123.9" y1="730.54" x2="126.7" y2="730.54" stroke="#111" stroke-width="0.75"/>
<line x1="123.9" y1="733.51" x2="126.7" y2="733.51" stroke="#111" stroke-width="0.75"/>
<circle cx="125.3" cy="732.03" r="1.55" fill="#111"/>
<line x1="134.37" y1="730.54" x2="134.37" y2="733.51" stroke="#111" stroke-width="0.75"/>
<line x1="132.97" y1="730.54" x2="135.77" y2="730.54" stroke="#111" stroke-width="0.75"/>
<line x1="132.97" y1="733.51" x2="135.77" y2="733.51" stroke="#111" stroke-width="0.75"/>
<circle cx="134.37" cy="732.03" r="1.55" fill="#111"/>
<polyline points="34.6,728.86 43.67,729.98 52.74,729.98 61.81,721.98 70.88,719.56 79.95,719.56 89.02,713.24 98.09,711.57 107.16,712.5 116.23,729.42 125.3,733.89 134.37,734.82" fill="none" stroke="#e8232a" stroke-width="0.9" stroke-linejoin="round"/>
<rect x="33.15" y="727.41" width="2.9" height="2.9" fill="#e8232a"/>
<rect x="42.22" y="728.53" width="2.9" height="2.9" fill="#e8232a"/>
<rect x="51.29" y="728.53" width="2.9" height="2.9" fill="#e8232a"/>
<line x1="61.81" y1="720.87" x2="61.81" y2="723.1" stroke="#e8232a" stroke-width="0.75"/>
<line x1="60.41" y1="720.87" x2="63.21" y2="720.87" stroke="#e8232a" stroke-width="0.75"/>
<line x1="60.41" y1="723.1" x2="63.21" y2="723.1" stroke="#e8232a" stroke-width="0.75"/>
<rect x="60.36" y="720.53" width="2.9" height="2.9" fill="#e8232a"/>
<line x1="70.88" y1="718.63" x2="70.88" y2="720.49" stroke="#e8232a" stroke-width="0.75"/>
<line x1="69.48" y1="718.63" x2="72.28" y2="718.63" stroke="#e8232a" stroke-width="0.75"/>
<line x1="69.48" y1="720.49" x2="72.28" y2="720.49" stroke="#e8232a" stroke-width="0.75"/>
<rect x="69.43" y="718.11" width="2.9" height="2.9" fill="#e8232a"/>
<line x1="79.95" y1="718.63" x2="79.95" y2="720.49" stroke="#e8232a" stroke-width="0.75"/>
<line x1="78.55" y1="718.63" x2="81.35" y2="718.63" stroke="#e8232a" stroke-width="0.75"/>
<line x1="78.55" y1="720.49" x2="81.35" y2="720.49" stroke="#e8232a" stroke-width="0.75"/>
<rect x="78.5" y="718.11" width="2.9" height="2.9" fill="#e8232a"/>
<line x1="89.02" y1="711.38" x2="89.02" y2="715.1" stroke="#e8232a" stroke-width="0.75"/>
<line x1="87.62" y1="711.38" x2="90.42" y2="711.38" stroke="#e8232a" stroke-width="0.75"/>
<line x1="87.62" y1="715.1" x2="90.42" y2="715.1" stroke="#e8232a" stroke-width="0.75"/>
<rect x="87.57" y="711.79" width="2.9" height="2.9" fill="#e8232a"/>
<line x1="98.09" y1="708.78" x2="98.09" y2="714.36" stroke="#e8232a" stroke-width="0.75"/>
<line x1="96.69" y1="708.78" x2="99.49" y2="708.78" stroke="#e8232a" stroke-width="0.75"/>
<line x1="96.69" y1="714.36" x2="99.49" y2="714.36" stroke="#e8232a" stroke-width="0.75"/>
<rect x="96.64" y="710.12" width="2.9" height="2.9" fill="#e8232a"/>
<line x1="107.16" y1="711.38" x2="107.16" y2="713.61" stroke="#e8232a" stroke-width="0.75"/>
<line x1="105.76" y1="711.38" x2="108.56" y2="711.38" stroke="#e8232a" stroke-width="0.75"/>
<line x1="105.76" y1="713.61" x2="108.56" y2="713.61" stroke="#e8232a" stroke-width="0.75"/>
<rect x="105.71" y="711.05" width="2.9" height="2.9" fill="#e8232a"/>
<rect x="114.78" y="727.97" width="2.9" height="2.9" fill="#e8232a"/>
<line x1="125.3" y1="732.77" x2="125.3" y2="735" stroke="#e8232a" stroke-width="0.75"/>
<line x1="123.9" y1="732.77" x2="126.7" y2="732.77" stroke="#e8232a" stroke-width="0.75"/>
<line x1="123.9" y1="735" x2="126.7" y2="735" stroke="#e8232a" stroke-width="0.75"/>
<rect x="123.85" y="732.44" width="2.9" height="2.9" fill="#e8232a"/>
<line x1="134.37" y1="733.7" x2="134.37" y2="735.93" stroke="#e8232a" stroke-width="0.75"/>
<line x1="132.97" y1="733.7" x2="135.77" y2="733.7" stroke="#e8232a" stroke-width="0.75"/>
<line x1="132.97" y1="735.93" x2="135.77" y2="735.93" stroke="#e8232a" stroke-width="0.75"/>
<rect x="132.92" y="733.37" width="2.9" height="2.9" fill="#e8232a"/>
<line x1="33.2" y1="743" x2="33.2" y2="668.6" stroke="#3a3a3a" stroke-width="0.9"/>
<line x1="30.8" y1="743" x2="33.2" y2="743" stroke="#3a3a3a" stroke-width="0.9"/>
<text x="29.6" y="745.63" text-anchor="end">0</text>
<line x1="30.8" y1="724.4" x2="33.2" y2="724.4" stroke="#3a3a3a" stroke-width="0.9"/>
<text x="29.6" y="727.03" text-anchor="end">10</text>
<line x1="30.8" y1="705.8" x2="33.2" y2="705.8" stroke="#3a3a3a" stroke-width="0.9"/>
<text x="29.6" y="708.43" text-anchor="end">20</text>
<line x1="30.8" y1="687.2" x2="33.2" y2="687.2" stroke="#3a3a3a" stroke-width="0.9"/>
<text x="29.6" y="689.83" text-anchor="end">30</text>
<line x1="30.8" y1="668.6" x2="33.2" y2="668.6" stroke="#3a3a3a" stroke-width="0.9"/>
<text x="29.6" y="671.23" text-anchor="end">40</text>
<line x1="33.2" y1="743" x2="144.48" y2="743" stroke="#3a3a3a" stroke-width="0.9"/>
<line x1="33.2" y1="743" x2="33.2" y2="745.2" stroke="#3a3a3a" stroke-width="0.9"/>
<text x="33.2" y="751.53" text-anchor="middle">0</text>
<line x1="61.02" y1="743" x2="61.02" y2="745.2" stroke="#3a3a3a" stroke-width="0.9"/>
<text x="61.02" y="751.53" text-anchor="middle">20</text>
<line x1="88.84" y1="743" x2="88.84" y2="745.2" stroke="#3a3a3a" stroke-width="0.9"/>
<text x="88.84" y="751.53" text-anchor="middle">40</text>
<line x1="116.66" y1="743" x2="116.66" y2="745.2" stroke="#3a3a3a" stroke-width="0.9"/>
<text x="116.66" y="751.53" text-anchor="middle">60</text>
<line x1="144.48" y1="743" x2="144.48" y2="745.2" stroke="#3a3a3a" stroke-width="0.9"/>
<text x="144.48" y="751.53" text-anchor="middle">80</text>
<text x="88.84" y="760.96" text-anchor="middle" font-size="7.2">Time (minutes)</text>
<text x="39.7" y="698.43">Glucose</text>
<text x="60.3" y="674.83">Oligomycin</text>
<text x="96.8" y="665.63">2-DG</text>
<line x1="126.6" y1="653.6" x2="134.1" y2="653.6" stroke="#111" stroke-width="0.9"/>
<circle cx="130.35" cy="653.6" r="1.6" fill="#111"/>
<text x="138.1" y="656.23">siNC</text>
<line x1="126.6" y1="662.9" x2="134.1" y2="662.9" stroke="#e8232a" stroke-width="0.9"/>
<rect x="128.75" y="661.3" width="3.2" height="3.2" fill="#e8232a"/>
<text x="138.1" y="665.53">siHIF-1α#1</text>
<text x="88.9" y="644.53" text-anchor="middle">786-O</text>
<text x="6.2" y="707.06" text-anchor="middle" font-size="7.2" transform="rotate(-90 6.2 704.5)">ECAR (mpH/min/10⁴ cells)</text>
<text x="341.4" y="642" font-weight="bold" font-size="14.5">O</text>
<line x1="393.96" y1="699" x2="393.96" y2="742.2" stroke="#8a8a8a" stroke-width="0.6" stroke-dasharray="0.8 1.3"/>
<line x1="421.05" y1="675.5" x2="421.05" y2="742.2" stroke="#8a8a8a" stroke-width="0.6" stroke-dasharray="0.8 1.3"/>
<line x1="448.14" y1="666.5" x2="448.14" y2="742.2" stroke="#8a8a8a" stroke-width="0.6" stroke-dasharray="0.8 1.3"/>
<polyline points="375.9,733.16 384.93,733.53 393.96,733.53 402.99,702.72 412.02,699.4 421.05,697.55 430.08,685.74 439.11,683.71 448.14,684.45 457.17,716.55 466.2,719.69 475.23,720.43" fill="none" stroke="#111" stroke-width="0.9" stroke-linejoin="round"/>
<line x1="375.9" y1="732.05" x2="375.9" y2="734.27" stroke="#111" stroke-width="0.75"/>
<line x1="374.5" y1="732.05" x2="377.3" y2="732.05" stroke="#111" stroke-width="0.75"/>
<line x1="374.5" y1="734.27" x2="377.3" y2="734.27" stroke="#111" stroke-width="0.75"/>
<circle cx="375.9" cy="733.16" r="1.55" fill="#111"/>
<line x1="384.93" y1="732.42" x2="384.93" y2="734.64" stroke="#111" stroke-width="0.75"/>
<line x1="383.53" y1="732.42" x2="386.33" y2="732.42" stroke="#111" stroke-width="0.75"/>
<line x1="383.53" y1="734.64" x2="386.33" y2="734.64" stroke="#111" stroke-width="0.75"/>
<circle cx="384.93" cy="733.53" r="1.55" fill="#111"/>
<line x1="393.96" y1="732.42" x2="393.96" y2="734.64" stroke="#111" stroke-width="0.75"/>
<line x1="392.56" y1="732.42" x2="395.36" y2="732.42" stroke="#111" stroke-width="0.75"/>
<line x1="392.56" y1="734.64" x2="395.36" y2="734.64" stroke="#111" stroke-width="0.75"/>
<circle cx="393.96" cy="733.53" r="1.55" fill="#111"/>
<line x1="402.99" y1="701.24" x2="402.99" y2="704.19" stroke="#111" stroke-width="0.75"/>
<line x1="401.59" y1="701.24" x2="404.39" y2="701.24" stroke="#111" stroke-width="0.75"/>
<line x1="401.59" y1="704.19" x2="404.39" y2="704.19" stroke="#111" stroke-width="0.75"/>
<circle cx="402.99" cy="702.72" r="1.55" fill="#111"/>
<line x1="412.02" y1="697.74" x2="412.02" y2="701.06" stroke="#111" stroke-width="0.75"/>
<line x1="410.62" y1="697.74" x2="413.42" y2="697.74" stroke="#111" stroke-width="0.75"/>
<line x1="410.62" y1="701.06" x2="413.42" y2="701.06" stroke="#111" stroke-width="0.75"/>
<circle cx="412.02" cy="699.4" r="1.55" fill="#111"/>
<line x1="421.05" y1="695.89" x2="421.05" y2="699.21" stroke="#111" stroke-width="0.75"/>
<line x1="419.65" y1="695.89" x2="422.45" y2="695.89" stroke="#111" stroke-width="0.75"/>
<line x1="419.65" y1="699.21" x2="422.45" y2="699.21" stroke="#111" stroke-width="0.75"/>
<circle cx="421.05" cy="697.55" r="1.55" fill="#111"/>
<line x1="430.08" y1="684.64" x2="430.08" y2="686.85" stroke="#111" stroke-width="0.75"/>
<line x1="428.68" y1="684.64" x2="431.48" y2="684.64" stroke="#111" stroke-width="0.75"/>
<line x1="428.68" y1="686.85" x2="431.48" y2="686.85" stroke="#111" stroke-width="0.75"/>
<circle cx="430.08" cy="685.74" r="1.55" fill="#111"/>
<line x1="439.11" y1="682.24" x2="439.11" y2="685.19" stroke="#111" stroke-width="0.75"/>
<line x1="437.71" y1="682.24" x2="440.51" y2="682.24" stroke="#111" stroke-width="0.75"/>
<line x1="437.71" y1="685.19" x2="440.51" y2="685.19" stroke="#111" stroke-width="0.75"/>
<circle cx="439.11" cy="683.71" r="1.55" fill="#111"/>
<line x1="448.14" y1="683.34" x2="448.14" y2="685.56" stroke="#111" stroke-width="0.75"/>
<line x1="446.74" y1="683.34" x2="449.54" y2="683.34" stroke="#111" stroke-width="0.75"/>
<line x1="446.74" y1="685.56" x2="449.54" y2="685.56" stroke="#111" stroke-width="0.75"/>
<circle cx="448.14" cy="684.45" r="1.55" fill="#111"/>
<circle cx="457.17" cy="716.55" r="1.55" fill="#111"/>
<line x1="466.2" y1="718.77" x2="466.2" y2="720.61" stroke="#111" stroke-width="0.75"/>
<line x1="464.8" y1="718.77" x2="467.6" y2="718.77" stroke="#111" stroke-width="0.75"/>
<line x1="464.8" y1="720.61" x2="467.6" y2="720.61" stroke="#111" stroke-width="0.75"/>
<circle cx="466.2" cy="719.69" r="1.55" fill="#111"/>
<line x1="475.23" y1="719.32" x2="475.23" y2="721.54" stroke="#111" stroke-width="0.75"/>
<line x1="473.83" y1="719.32" x2="476.63" y2="719.32" stroke="#111" stroke-width="0.75"/>
<line x1="473.83" y1="721.54" x2="476.63" y2="721.54" stroke="#111" stroke-width="0.75"/>
<circle cx="475.23" cy="720.43" r="1.55" fill="#111"/>
<polyline points="375.9,734.45 384.93,734.82 393.96,734.82 402.99,724.49 412.02,721.17 421.05,720.43 430.08,712.68 439.11,713.97 448.14,714.34 457.17,727.07 466.2,729.65 475.23,730.39" fill="none" stroke="#e8232a" stroke-width="0.9" stroke-linejoin="round"/>
<rect x="374.45" y="733" width="2.9" height="2.9" fill="#e8232a"/>
<rect x="383.48" y="733.37" width="2.9" height="2.9" fill="#e8232a"/>
<rect x="392.51" y="733.37" width="2.9" height="2.9" fill="#e8232a"/>
<line x1="402.99" y1="723.38" x2="402.99" y2="725.6" stroke="#e8232a" stroke-width="0.75"/>
<line x1="401.59" y1="723.38" x2="404.39" y2="723.38" stroke="#e8232a" stroke-width="0.75"/>
<line x1="401.59" y1="725.6" x2="404.39" y2="725.6" stroke="#e8232a" stroke-width="0.75"/>
<rect x="401.54" y="723.04" width="2.9" height="2.9" fill="#e8232a"/>
<line x1="412.02" y1="720.24" x2="412.02" y2="722.09" stroke="#e8232a" stroke-width="0.75"/>
<line x1="410.62" y1="720.24" x2="413.42" y2="720.24" stroke="#e8232a" stroke-width="0.75"/>
<line x1="410.62" y1="722.09" x2="413.42" y2="722.09" stroke="#e8232a" stroke-width="0.75"/>
<rect x="410.57" y="719.72" width="2.9" height="2.9" fill="#e8232a"/>
<rect x="419.6" y="718.98" width="2.9" height="2.9" fill="#e8232a"/>
<line x1="430.08" y1="709.91" x2="430.08" y2="715.45" stroke="#e8232a" stroke-width="0.75"/>
<line x1="428.68" y1="709.91" x2="431.48" y2="709.91" stroke="#e8232a" stroke-width="0.75"/>
<line x1="428.68" y1="715.45" x2="431.48" y2="715.45" stroke="#e8232a" stroke-width="0.75"/>
<rect x="428.63" y="711.23" width="2.9" height="2.9" fill="#e8232a"/>
<line x1="439.11" y1="710.65" x2="439.11" y2="717.29" stroke="#e8232a" stroke-width="0.75"/>
<line x1="437.71" y1="710.65" x2="440.51" y2="710.65" stroke="#e8232a" stroke-width="0.75"/>
<line x1="437.71" y1="717.29" x2="440.51" y2="717.29" stroke="#e8232a" stroke-width="0.75"/>
<rect x="437.66" y="712.52" width="2.9" height="2.9" fill="#e8232a"/>
<line x1="448.14" y1="711.02" x2="448.14" y2="717.66" stroke="#e8232a" stroke-width="0.75"/>
<line x1="446.74" y1="711.02" x2="449.54" y2="711.02" stroke="#e8232a" stroke-width="0.75"/>
<line x1="446.74" y1="717.66" x2="449.54" y2="717.66" stroke="#e8232a" stroke-width="0.75"/>
<rect x="446.69" y="712.89" width="2.9" height="2.9" fill="#e8232a"/>
<line x1="457.17" y1="725.6" x2="457.17" y2="728.55" stroke="#e8232a" stroke-width="0.75"/>
<line x1="455.77" y1="725.6" x2="458.57" y2="725.6" stroke="#e8232a" stroke-width="0.75"/>
<line x1="455.77" y1="728.55" x2="458.57" y2="728.55" stroke="#e8232a" stroke-width="0.75"/>
<rect x="455.72" y="725.62" width="2.9" height="2.9" fill="#e8232a"/>
<line x1="466.2" y1="728.18" x2="466.2" y2="731.13" stroke="#e8232a" stroke-width="0.75"/>
<line x1="464.8" y1="728.18" x2="467.6" y2="728.18" stroke="#e8232a" stroke-width="0.75"/>
<line x1="464.8" y1="731.13" x2="467.6" y2="731.13" stroke="#e8232a" stroke-width="0.75"/>
<rect x="464.75" y="728.2" width="2.9" height="2.9" fill="#e8232a"/>
<line x1="475.23" y1="728.92" x2="475.23" y2="731.87" stroke="#e8232a" stroke-width="0.75"/>
<line x1="473.83" y1="728.92" x2="476.63" y2="728.92" stroke="#e8232a" stroke-width="0.75"/>
<line x1="473.83" y1="731.87" x2="476.63" y2="731.87" stroke="#e8232a" stroke-width="0.75"/>
<rect x="473.78" y="728.94" width="2.9" height="2.9" fill="#e8232a"/>
<line x1="374.3" y1="742.2" x2="374.3" y2="668.4" stroke="#3a3a3a" stroke-width="0.9"/>
<line x1="371.9" y1="742.2" x2="374.3" y2="742.2" stroke="#3a3a3a" stroke-width="0.9"/>
<text x="370.7" y="744.83" text-anchor="end">0</text>
<line x1="371.9" y1="723.75" x2="374.3" y2="723.75" stroke="#3a3a3a" stroke-width="0.9"/>
<text x="370.7" y="726.38" text-anchor="end">10</text>
<line x1="371.9" y1="705.3" x2="374.3" y2="705.3" stroke="#3a3a3a" stroke-width="0.9"/>
<text x="370.7" y="707.93" text-anchor="end">20</text>
<line x1="371.9" y1="686.85" x2="374.3" y2="686.85" stroke="#3a3a3a" stroke-width="0.9"/>
<text x="370.7" y="689.48" text-anchor="end">30</text>
<line x1="371.9" y1="668.4" x2="374.3" y2="668.4" stroke="#3a3a3a" stroke-width="0.9"/>
<text x="370.7" y="671.03" text-anchor="end">40</text>
<line x1="374.3" y1="742.2" x2="485.58" y2="742.2" stroke="#3a3a3a" stroke-width="0.9"/>
<line x1="374.3" y1="742.2" x2="374.3" y2="744.4" stroke="#3a3a3a" stroke-width="0.9"/>
<text x="374.3" y="750.73" text-anchor="middle">0</text>
<line x1="402.12" y1="742.2" x2="402.12" y2="744.4" stroke="#3a3a3a" stroke-width="0.9"/>
<text x="402.12" y="750.73" text-anchor="middle">20</text>
<line x1="429.94" y1="742.2" x2="429.94" y2="744.4" stroke="#3a3a3a" stroke-width="0.9"/>
<text x="429.94" y="750.73" text-anchor="middle">40</text>
<line x1="457.76" y1="742.2" x2="457.76" y2="744.4" stroke="#3a3a3a" stroke-width="0.9"/>
<text x="457.76" y="750.73" text-anchor="middle">60</text>
<line x1="485.58" y1="742.2" x2="485.58" y2="744.4" stroke="#3a3a3a" stroke-width="0.9"/>
<text x="485.58" y="750.73" text-anchor="middle">80</text>
<text x="429.94" y="760.16" text-anchor="middle" font-size="7.2">Time (minutes)</text>
<text x="380.7" y="697.03">Glucose</text>
<text x="401.5" y="673.83">Oligomycin</text>
<text x="438.3" y="664.63">2-DG</text>
<line x1="466.6" y1="653.4" x2="474.1" y2="653.4" stroke="#111" stroke-width="0.9"/>
<circle cx="470.35" cy="653.4" r="1.6" fill="#111"/>
<text x="478.1" y="656.03">siNC</text>
<line x1="466.6" y1="662.7" x2="474.1" y2="662.7" stroke="#e8232a" stroke-width="0.9"/>
<rect x="468.75" y="661.1" width="3.2" height="3.2" fill="#e8232a"/>
<text x="478.1" y="665.33">siHIF-1α#1</text>
<text x="431.2" y="644.13" text-anchor="middle">Caki-1</text>
<text x="353.1" y="707.06" text-anchor="middle" font-size="7.2" transform="rotate(-90 353.1 704.5)">ECAR (mpH/min/10⁴ cells)</text>
<text x="176.7" y="642" font-weight="bold" font-size="14.5">N</text>
<rect x="208.6" y="704.92" width="12.4" height="37.48" fill="#fff" stroke="#111" stroke-width="0.9"/>
<line x1="214.8" y1="707.08" x2="214.8" y2="702.04" stroke="#111" stroke-width="0.8"/>
<line x1="211.45" y1="702.04" x2="218.15" y2="702.04" stroke="#111" stroke-width="0.8"/>
<line x1="211.45" y1="707.08" x2="218.15" y2="707.08" stroke="#111" stroke-width="0.8"/>
<circle cx="214.8" cy="702.04" r="1.5" fill="#111"/>
<circle cx="212.6" cy="706" r="1.5" fill="#111"/>
<circle cx="217" cy="705.64" r="1.5" fill="#111"/>
<rect x="225.7" y="722.58" width="13.1" height="19.82" fill="#fff" stroke="#e9383d" stroke-width="0.9"/>
<line x1="232.25" y1="724.38" x2="232.25" y2="719.69" stroke="#e8232a" stroke-width="0.8"/>
<line x1="228.71" y1="719.69" x2="235.79" y2="719.69" stroke="#e8232a" stroke-width="0.8"/>
<line x1="228.71" y1="724.38" x2="235.79" y2="724.38" stroke="#e8232a" stroke-width="0.8"/>
<rect x="230.75" y="718.19" width="3" height="3" fill="#e8232a"/>
<rect x="228.55" y="721.8" width="3" height="3" fill="#e8232a"/>
<rect x="232.95" y="721.44" width="3" height="3" fill="#e8232a"/>
<rect x="256.7" y="672.48" width="12.3" height="69.92" fill="#fff" stroke="#111" stroke-width="0.9"/>
<line x1="262.85" y1="678.25" x2="262.85" y2="665.27" stroke="#111" stroke-width="0.8"/>
<line x1="259.53" y1="665.27" x2="266.17" y2="665.27" stroke="#111" stroke-width="0.8"/>
<line x1="259.53" y1="678.25" x2="266.17" y2="678.25" stroke="#111" stroke-width="0.8"/>
<circle cx="262.85" cy="666" r="1.5" fill="#111"/>
<circle cx="260.85" cy="672.84" r="1.5" fill="#111"/>
<circle cx="262.85" cy="677.53" r="1.5" fill="#111"/>
<rect x="274.3" y="707.44" width="12.6" height="34.96" fill="#fff" stroke="#e9383d" stroke-width="0.9"/>
<line x1="280.6" y1="713.57" x2="280.6" y2="700.23" stroke="#e8232a" stroke-width="0.8"/>
<line x1="277.2" y1="700.23" x2="284" y2="700.23" stroke="#e8232a" stroke-width="0.8"/>
<line x1="277.2" y1="713.57" x2="284" y2="713.57" stroke="#e8232a" stroke-width="0.8"/>
<rect x="279.1" y="699.45" width="3" height="3" fill="#e8232a"/>
<rect x="276.9" y="710.27" width="3" height="3" fill="#e8232a"/>
<rect x="281.3" y="707.74" width="3" height="3" fill="#e8232a"/>
<line x1="202.5" y1="742.4" x2="202.5" y2="652.3" stroke="#3a3a3a" stroke-width="0.9"/>
<line x1="199.5" y1="742.4" x2="202.5" y2="742.4" stroke="#3a3a3a" stroke-width="0.9"/>
<text x="198.1" y="745.13" text-anchor="end" font-size="7.7">0</text>
<line x1="199.5" y1="724.38" x2="202.5" y2="724.38" stroke="#3a3a3a" stroke-width="0.9"/>
<text x="198.1" y="727.11" text-anchor="end" font-size="7.7">5</text>
<line x1="199.5" y1="706.36" x2="202.5" y2="706.36" stroke="#3a3a3a" stroke-width="0.9"/>
<text x="198.1" y="709.09" text-anchor="end" font-size="7.7">10</text>
<line x1="199.5" y1="688.34" x2="202.5" y2="688.34" stroke="#3a3a3a" stroke-width="0.9"/>
<text x="198.1" y="691.07" text-anchor="end" font-size="7.7">15</text>
<line x1="199.5" y1="670.32" x2="202.5" y2="670.32" stroke="#3a3a3a" stroke-width="0.9"/>
<text x="198.1" y="673.05" text-anchor="end" font-size="7.7">20</text>
<line x1="199.5" y1="652.3" x2="202.5" y2="652.3" stroke="#3a3a3a" stroke-width="0.9"/>
<text x="198.1" y="655.03" text-anchor="end" font-size="7.7">25</text>
<line x1="202.5" y1="742.4" x2="288.7" y2="742.4" stroke="#3a3a3a" stroke-width="0.9"/>
<line x1="223.8" y1="742.4" x2="223.8" y2="745.8" stroke="#3a3a3a" stroke-width="0.9"/>
<text x="223.8" y="754.03" text-anchor="middle">Glycolysis</text>
<line x1="273" y1="742.4" x2="273" y2="745.8" stroke="#3a3a3a" stroke-width="0.9"/>
<text x="273" y="754.03" text-anchor="middle">Glycolytic</text>
<text x="273" y="762.73" text-anchor="middle">Capacity</text>
<line x1="214.5" y1="659.2" x2="232.6" y2="659.2" stroke="#5a5a5a" stroke-width="0.9"/>
<path d="M220.1 651.7V657.3M217.68 653.1L222.52 655.9M217.68 655.9L222.52 653.1M227.1 651.7V657.3M224.68 653.1L229.52 655.9M224.68 655.9L229.52 653.1" stroke="#111" stroke-width="1.05" fill="none"/>
<line x1="263.1" y1="659.2" x2="280.9" y2="659.2" stroke="#5a5a5a" stroke-width="0.9"/>
<path d="M268.1 651.74V657.26M265.71 653.12L270.49 655.88M265.71 655.88L270.49 653.12M275 651.74V657.26M272.61 653.12L277.39 655.88M272.61 655.88L277.39 653.12" stroke="#111" stroke-width="1.03" fill="none"/>
<text x="179.6" y="700.5" text-anchor="middle" font-size="7.33" transform="rotate(-90 179.6 697.9)">ECAR (mpH/min/10⁴ cells)</text>
<text x="244.1" y="644.93" text-anchor="middle">786-O</text>
<circle cx="294.5" cy="654.2" r="1.3" fill="#111"/>
<text x="301.9" y="656.83">siNC</text>
<rect x="293.2" y="662.8" width="2.6" height="2.6" fill="#e8232a"/>
<text x="301.9" y="666.73">siHIF-1α#1</text>
<text x="517.2" y="642" font-weight="bold" font-size="14.5">P</text>
<rect x="554.4" y="701.6" width="11.6" height="40.8" fill="#fff" stroke="#111" stroke-width="0.9"/>
<line x1="560.2" y1="705.51" x2="560.2" y2="697.91" stroke="#111" stroke-width="0.8"/>
<line x1="557.07" y1="697.91" x2="563.33" y2="697.91" stroke="#111" stroke-width="0.8"/>
<line x1="557.07" y1="705.51" x2="563.33" y2="705.51" stroke="#111" stroke-width="0.8"/>
<circle cx="560.2" cy="698.57" r="1.5" fill="#111"/>
<circle cx="558.2" cy="702.69" r="1.5" fill="#111"/>
<circle cx="560.2" cy="704.86" r="1.5" fill="#111"/>
<rect x="570.7" y="725.04" width="12.6" height="17.36" fill="#fff" stroke="#e9383d" stroke-width="0.9"/>
<rect x="573" y="723.76" width="3" height="3" fill="#e8232a"/>
<rect x="575.5" y="723.11" width="3" height="3" fill="#e8232a"/>
<rect x="578" y="723.54" width="3" height="3" fill="#e8232a"/>
<rect x="600.4" y="685.11" width="11.8" height="57.29" fill="#fff" stroke="#111" stroke-width="0.9"/>
<line x1="606.3" y1="687.72" x2="606.3" y2="682.07" stroke="#111" stroke-width="0.8"/>
<line x1="603.11" y1="682.07" x2="609.49" y2="682.07" stroke="#111" stroke-width="0.8"/>
<line x1="603.11" y1="687.72" x2="609.49" y2="687.72" stroke="#111" stroke-width="0.8"/>
<circle cx="606.3" cy="682.73" r="1.5" fill="#111"/>
<circle cx="604.3" cy="685.98" r="1.5" fill="#111"/>
<circle cx="608.5" cy="684.89" r="1.5" fill="#111"/>
<rect x="618" y="716.79" width="11.8" height="25.61" fill="#fff" stroke="#e9383d" stroke-width="0.9"/>
<line x1="623.9" y1="720.7" x2="623.9" y2="712.45" stroke="#e8232a" stroke-width="0.8"/>
<line x1="620.71" y1="712.45" x2="627.09" y2="712.45" stroke="#e8232a" stroke-width="0.8"/>
<line x1="620.71" y1="720.7" x2="627.09" y2="720.7" stroke="#e8232a" stroke-width="0.8"/>
<rect x="622.4" y="711.61" width="3" height="3" fill="#e8232a"/>
<rect x="621.9" y="717.03" width="3" height="3" fill="#e8232a"/>
<rect x="622.4" y="718.55" width="3" height="3" fill="#e8232a"/>
<line x1="548.8" y1="742.4" x2="548.8" y2="655.6" stroke="#3a3a3a" stroke-width="0.9"/>
<line x1="545.8" y1="742.4" x2="548.8" y2="742.4" stroke="#3a3a3a" stroke-width="0.9"/>
<text x="543.5" y="745.03" text-anchor="end">0</text>
<line x1="545.8" y1="720.7" x2="548.8" y2="720.7" stroke="#3a3a3a" stroke-width="0.9"/>
<text x="543.5" y="723.33" text-anchor="end">10</text>
<line x1="545.8" y1="699" x2="548.8" y2="699" stroke="#3a3a3a" stroke-width="0.9"/>
<text x="543.5" y="701.63" text-anchor="end">20</text>
<line x1="545.8" y1="677.3" x2="548.8" y2="677.3" stroke="#3a3a3a" stroke-width="0.9"/>
<text x="543.5" y="679.93" text-anchor="end">30</text>
<line x1="545.8" y1="655.6" x2="548.8" y2="655.6" stroke="#3a3a3a" stroke-width="0.9"/>
<text x="543.5" y="658.23" text-anchor="end">40</text>
<line x1="548.8" y1="742.4" x2="635.8" y2="742.4" stroke="#3a3a3a" stroke-width="0.9"/>
<line x1="568.8" y1="742.4" x2="568.8" y2="745.8" stroke="#3a3a3a" stroke-width="0.9"/>
<text x="568.8" y="754.03" text-anchor="middle">Glycolysis</text>
<line x1="618" y1="742.4" x2="618" y2="745.8" stroke="#3a3a3a" stroke-width="0.9"/>
<text x="618" y="754.03" text-anchor="middle">Glycolytic</text>
<text x="618" y="762.73" text-anchor="middle">Capacity</text>
<line x1="559.9" y1="660.1" x2="577.2" y2="660.1" stroke="#5a5a5a" stroke-width="0.9"/>
<path d="M561.5 651.72V657.28M559.09 653.11L563.91 655.89M559.09 655.89L563.91 653.11M568.45 651.72V657.28M566.04 653.11L570.86 655.89M566.04 655.89L570.86 653.11M575.4 651.72V657.28M572.99 653.11L577.81 655.89M572.99 655.89L577.81 653.11" stroke="#111" stroke-width="1.04" fill="none"/>
<line x1="606.5" y1="660.1" x2="624" y2="660.1" stroke="#5a5a5a" stroke-width="0.9"/>
<path d="M607.8 651.6V657.4M605.29 653.05L610.31 655.95M605.29 655.95L610.31 653.05M615.05 651.6V657.4M612.54 653.05L617.56 655.95M612.54 655.95L617.56 653.05M622.3 651.6V657.4M619.79 653.05L624.81 655.95M619.79 655.95L624.81 653.05" stroke="#111" stroke-width="1.09" fill="none"/>
<text x="524" y="701.2" text-anchor="middle" font-size="7.33" transform="rotate(-90 524 698.6)">ECAR (mpH/min/10⁴ cells)</text>
<text x="590.4" y="644.13" text-anchor="middle">Caki-1</text>
<circle cx="635.8" cy="654.2" r="1.3" fill="#111"/>
<text x="643" y="656.83">siNC</text>
<rect x="634.5" y="662.1" width="2.6" height="2.6" fill="#e8232a"/>
<text x="643" y="666.03">siHIF-1α#1</text>
</g>
</svg></body></html>
